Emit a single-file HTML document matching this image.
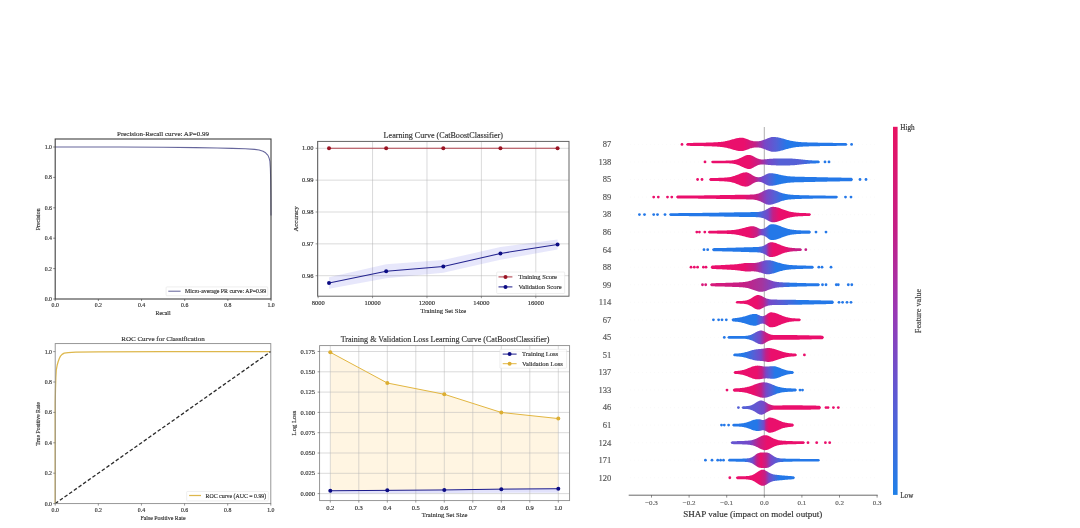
<!DOCTYPE html>
<html><head><meta charset="utf-8"><title>Model evaluation figures</title>
<style>
html,body{margin:0;padding:0;background:#fff;}
body{width:1080px;height:528px;overflow:hidden;}
svg{display:block;filter:blur(0.55px);font-family:'Liberation Serif',serif;}
</style></head><body>
<svg width="1080" height="528" viewBox="0 0 1080 528">
<rect width="1080" height="528" fill="#fff"/>
<g id="pr">
<path d="M55.2 147 L119.94 147.08 L163.1 147.3 L195.47 147.61 L217.05 147.91 L232.16 148.37 L245.1 148.82 L254.6 149.36 L259.13 150.04 L263.02 151.26 L265.61 152.78 L267.98 155.36 L269.06 157.94 L269.92 161.44 L270.35 168.28 L270.68 180.44 L270.89 195.64 L271 215.4" fill="none" stroke="#66669c" stroke-width="1.05" stroke-linejoin="round"/>
<rect x="55.2" y="139.0" width="215.8" height="160" fill="none" stroke="#444" stroke-width="1.12"/>
<line x1="55.2" y1="299.0" x2="55.2" y2="301.0" stroke="#3c3c3c" stroke-width="0.6"/>
<line x1="53.2" y1="299" x2="55.2" y2="299" stroke="#3c3c3c" stroke-width="0.6"/>
<text x="55.2" y="307.1" font-size="5.8" text-anchor="middle" fill="#333" stroke="#333" stroke-width="0.16">0.0</text>
<text x="51.9" y="300.9" font-size="5.8" text-anchor="end" fill="#333" stroke="#333" stroke-width="0.16">0.0</text>
<line x1="98.36" y1="299.0" x2="98.36" y2="301.0" stroke="#3c3c3c" stroke-width="0.6"/>
<line x1="53.2" y1="268.6" x2="55.2" y2="268.6" stroke="#3c3c3c" stroke-width="0.6"/>
<text x="98.36" y="307.1" font-size="5.8" text-anchor="middle" fill="#333" stroke="#333" stroke-width="0.16">0.2</text>
<text x="51.9" y="270.5" font-size="5.8" text-anchor="end" fill="#333" stroke="#333" stroke-width="0.16">0.2</text>
<line x1="141.52" y1="299.0" x2="141.52" y2="301.0" stroke="#3c3c3c" stroke-width="0.6"/>
<line x1="53.2" y1="238.2" x2="55.2" y2="238.2" stroke="#3c3c3c" stroke-width="0.6"/>
<text x="141.52" y="307.1" font-size="5.8" text-anchor="middle" fill="#333" stroke="#333" stroke-width="0.16">0.4</text>
<text x="51.9" y="240.1" font-size="5.8" text-anchor="end" fill="#333" stroke="#333" stroke-width="0.16">0.4</text>
<line x1="184.68" y1="299.0" x2="184.68" y2="301.0" stroke="#3c3c3c" stroke-width="0.6"/>
<line x1="53.2" y1="207.8" x2="55.2" y2="207.8" stroke="#3c3c3c" stroke-width="0.6"/>
<text x="184.68" y="307.1" font-size="5.8" text-anchor="middle" fill="#333" stroke="#333" stroke-width="0.16">0.6</text>
<text x="51.9" y="209.7" font-size="5.8" text-anchor="end" fill="#333" stroke="#333" stroke-width="0.16">0.6</text>
<line x1="227.84" y1="299.0" x2="227.84" y2="301.0" stroke="#3c3c3c" stroke-width="0.6"/>
<line x1="53.2" y1="177.4" x2="55.2" y2="177.4" stroke="#3c3c3c" stroke-width="0.6"/>
<text x="227.84" y="307.1" font-size="5.8" text-anchor="middle" fill="#333" stroke="#333" stroke-width="0.16">0.8</text>
<text x="51.9" y="179.3" font-size="5.8" text-anchor="end" fill="#333" stroke="#333" stroke-width="0.16">0.8</text>
<line x1="271" y1="299.0" x2="271" y2="301.0" stroke="#3c3c3c" stroke-width="0.6"/>
<line x1="53.2" y1="147" x2="55.2" y2="147" stroke="#3c3c3c" stroke-width="0.6"/>
<text x="271" y="307.1" font-size="5.8" text-anchor="middle" fill="#333" stroke="#333" stroke-width="0.16">1.0</text>
<text x="51.9" y="148.9" font-size="5.8" text-anchor="end" fill="#333" stroke="#333" stroke-width="0.16">1.0</text>
<text x="163" y="135.8" font-size="7.0" text-anchor="middle" fill="#333" stroke="#333" stroke-width="0.16">Precision-Recall curve: AP=0.99</text>
<text x="163" y="315.2" font-size="5.9" text-anchor="middle" fill="#333" stroke="#333" stroke-width="0.16">Recall</text>
<text x="40.3" y="219.3" font-size="5.9" text-anchor="middle" fill="#333" stroke="#333" stroke-width="0.16" transform="rotate(-90 40.3 219.3)">Precision</text>
<rect x="166.1" y="286.9" width="101.7" height="8.9" rx="0.8" fill="#fff" stroke="#dcdcdc" stroke-width="0.5"/>
<line x1="168.3" y1="291.2" x2="180.6" y2="291.2" stroke="#66669c" stroke-width="1.05"/>
<text x="185" y="293.1" font-size="5.85" text-anchor="start" fill="#333" stroke="#333" stroke-width="0.16">Micro-average PR curve: AP=0.99</text>
</g>
<g id="roc">
<path d="M55.2 503.6 L55.2 403.28 L55.52 388.08 L55.85 377.44 L56.28 369.99 L57.14 365.28 L58.2 361.48 L59.3 358.44 L60.48 356.16 L62.1 354.34 L64.19 353.12 L68.14 352.51 L75.68 352.13 L98.32 351.9 L163 351.68 L270.8 351.6" fill="none" stroke="#ddb74c" stroke-width="1.25" stroke-linejoin="round"/>
<line x1="55.2" y1="503.6" x2="270.8" y2="351.6" stroke="#2a2a2a" stroke-width="1.3" stroke-dasharray="3.6 2.1"/>
<rect x="55.2" y="343.6" width="215.6" height="160" fill="none" stroke="#8c8c8c" stroke-width="0.9"/>
<line x1="55.2" y1="503.6" x2="55.2" y2="505.6" stroke="#555" stroke-width="0.6"/>
<line x1="53.2" y1="503.6" x2="55.2" y2="503.6" stroke="#555" stroke-width="0.6"/>
<text x="55.2" y="511.7" font-size="5.8" text-anchor="middle" fill="#333" stroke="#333" stroke-width="0.16">0.0</text>
<text x="51.9" y="505.5" font-size="5.8" text-anchor="end" fill="#333" stroke="#333" stroke-width="0.16">0.0</text>
<line x1="98.32" y1="503.6" x2="98.32" y2="505.6" stroke="#555" stroke-width="0.6"/>
<line x1="53.2" y1="473.2" x2="55.2" y2="473.2" stroke="#555" stroke-width="0.6"/>
<text x="98.32" y="511.7" font-size="5.8" text-anchor="middle" fill="#333" stroke="#333" stroke-width="0.16">0.2</text>
<text x="51.9" y="475.1" font-size="5.8" text-anchor="end" fill="#333" stroke="#333" stroke-width="0.16">0.2</text>
<line x1="141.44" y1="503.6" x2="141.44" y2="505.6" stroke="#555" stroke-width="0.6"/>
<line x1="53.2" y1="442.8" x2="55.2" y2="442.8" stroke="#555" stroke-width="0.6"/>
<text x="141.44" y="511.7" font-size="5.8" text-anchor="middle" fill="#333" stroke="#333" stroke-width="0.16">0.4</text>
<text x="51.9" y="444.7" font-size="5.8" text-anchor="end" fill="#333" stroke="#333" stroke-width="0.16">0.4</text>
<line x1="184.56" y1="503.6" x2="184.56" y2="505.6" stroke="#555" stroke-width="0.6"/>
<line x1="53.2" y1="412.4" x2="55.2" y2="412.4" stroke="#555" stroke-width="0.6"/>
<text x="184.56" y="511.7" font-size="5.8" text-anchor="middle" fill="#333" stroke="#333" stroke-width="0.16">0.6</text>
<text x="51.9" y="414.3" font-size="5.8" text-anchor="end" fill="#333" stroke="#333" stroke-width="0.16">0.6</text>
<line x1="227.68" y1="503.6" x2="227.68" y2="505.6" stroke="#555" stroke-width="0.6"/>
<line x1="53.2" y1="382" x2="55.2" y2="382" stroke="#555" stroke-width="0.6"/>
<text x="227.68" y="511.7" font-size="5.8" text-anchor="middle" fill="#333" stroke="#333" stroke-width="0.16">0.8</text>
<text x="51.9" y="383.9" font-size="5.8" text-anchor="end" fill="#333" stroke="#333" stroke-width="0.16">0.8</text>
<line x1="270.8" y1="503.6" x2="270.8" y2="505.6" stroke="#555" stroke-width="0.6"/>
<line x1="53.2" y1="351.6" x2="55.2" y2="351.6" stroke="#555" stroke-width="0.6"/>
<text x="270.8" y="511.7" font-size="5.8" text-anchor="middle" fill="#333" stroke="#333" stroke-width="0.16">1.0</text>
<text x="51.9" y="353.5" font-size="5.8" text-anchor="end" fill="#333" stroke="#333" stroke-width="0.16">1.0</text>
<text x="163" y="340.6" font-size="7.0" text-anchor="middle" fill="#333" stroke="#333" stroke-width="0.16">ROC Curve for Classification</text>
<text x="163" y="519.8" font-size="5.9" text-anchor="middle" fill="#333" stroke="#333" stroke-width="0.16">False Positive Rate</text>
<text x="40.3" y="424" font-size="5.9" text-anchor="middle" fill="#333" stroke="#333" stroke-width="0.16" transform="rotate(-90 40.3 424)">True Positive Rate</text>
<rect x="186.7" y="491.4" width="81.6" height="9.5" rx="0.8" fill="#fff" fill-opacity="0.8" stroke="#dcdcdc" stroke-width="0.5"/>
<line x1="189.1" y1="495.5" x2="201" y2="495.5" stroke="#ddb74c" stroke-width="1.25"/>
<text x="205.6" y="497.5" font-size="5.85" text-anchor="start" fill="#333" stroke="#333" stroke-width="0.16">ROC curve (AUC = 0.99)</text>
</g>
<g id="lc">
<line x1="318.14" y1="141.4" x2="318.14" y2="296.2" stroke="#b4b4b6" stroke-width="0.5"/>
<line x1="372.56" y1="141.4" x2="372.56" y2="296.2" stroke="#b4b4b6" stroke-width="0.5"/>
<line x1="426.98" y1="141.4" x2="426.98" y2="296.2" stroke="#b4b4b6" stroke-width="0.5"/>
<line x1="481.39" y1="141.4" x2="481.39" y2="296.2" stroke="#b4b4b6" stroke-width="0.5"/>
<line x1="535.81" y1="141.4" x2="535.81" y2="296.2" stroke="#b4b4b6" stroke-width="0.5"/>
<line x1="317.6" y1="275.7" x2="569.0" y2="275.7" stroke="#b4b4b6" stroke-width="0.5"/>
<line x1="317.6" y1="243.85" x2="569.0" y2="243.85" stroke="#b4b4b6" stroke-width="0.5"/>
<line x1="317.6" y1="212" x2="569.0" y2="212" stroke="#b4b4b6" stroke-width="0.5"/>
<line x1="317.6" y1="180.15" x2="569.0" y2="180.15" stroke="#b4b4b6" stroke-width="0.5"/>
<line x1="317.6" y1="148.3" x2="569.0" y2="148.3" stroke="#b4b4b6" stroke-width="0.5"/>
<path d="M329.03 277.29 L386.16 264.23 L443.3 260.09 L500.44 247.03 L557.57 239.39 L557.57 249.58 L500.44 259.77 L443.3 272.83 L386.16 278.25 L329.03 288.76" fill="#2222dd" stroke="none" stroke-width="0" stroke-linejoin="round" fill-opacity="0.11"/>
<path d="M329.03 148.3 L386.16 148.3 L443.3 148.3 L500.44 148.3 L557.57 148.3" fill="none" stroke="#b2434f" stroke-width="1.1" stroke-linejoin="round"/>
<circle cx="329.03" cy="148.3" r="2.0" fill="#9a1424"/>
<circle cx="386.16" cy="148.3" r="2.0" fill="#9a1424"/>
<circle cx="443.3" cy="148.3" r="2.0" fill="#9a1424"/>
<circle cx="500.44" cy="148.3" r="2.0" fill="#9a1424"/>
<circle cx="557.57" cy="148.3" r="2.0" fill="#9a1424"/>
<path d="M329.03 283.03 L386.16 271.24 L443.3 266.46 L500.44 253.4 L557.57 244.49" fill="none" stroke="#23238f" stroke-width="1.05" stroke-linejoin="round"/>
<circle cx="329.03" cy="283.03" r="2.0" fill="#0c0c84"/>
<circle cx="386.16" cy="271.24" r="2.0" fill="#0c0c84"/>
<circle cx="443.3" cy="266.46" r="2.0" fill="#0c0c84"/>
<circle cx="500.44" cy="253.4" r="2.0" fill="#0c0c84"/>
<circle cx="557.57" cy="244.49" r="2.0" fill="#0c0c84"/>
<rect x="317.6" y="141.4" width="251.4" height="154.8" fill="none" stroke="#5e5e5e" stroke-width="0.95"/>
<line x1="318.14" y1="296.2" x2="318.14" y2="298.2" stroke="#555" stroke-width="0.6"/>
<text x="318.14" y="304.9" font-size="6.5" text-anchor="middle" fill="#333" stroke="#333" stroke-width="0.16">8000</text>
<line x1="372.56" y1="296.2" x2="372.56" y2="298.2" stroke="#555" stroke-width="0.6"/>
<text x="372.56" y="304.9" font-size="6.5" text-anchor="middle" fill="#333" stroke="#333" stroke-width="0.16">10000</text>
<line x1="426.98" y1="296.2" x2="426.98" y2="298.2" stroke="#555" stroke-width="0.6"/>
<text x="426.98" y="304.9" font-size="6.5" text-anchor="middle" fill="#333" stroke="#333" stroke-width="0.16">12000</text>
<line x1="481.39" y1="296.2" x2="481.39" y2="298.2" stroke="#555" stroke-width="0.6"/>
<text x="481.39" y="304.9" font-size="6.5" text-anchor="middle" fill="#333" stroke="#333" stroke-width="0.16">14000</text>
<line x1="535.81" y1="296.2" x2="535.81" y2="298.2" stroke="#555" stroke-width="0.6"/>
<text x="535.81" y="304.9" font-size="6.5" text-anchor="middle" fill="#333" stroke="#333" stroke-width="0.16">16000</text>
<line x1="315.6" y1="275.7" x2="317.6" y2="275.7" stroke="#555" stroke-width="0.6"/>
<text x="313.4" y="277.8" font-size="6.5" text-anchor="end" fill="#333" stroke="#333" stroke-width="0.16">0.96</text>
<line x1="315.6" y1="243.85" x2="317.6" y2="243.85" stroke="#555" stroke-width="0.6"/>
<text x="313.4" y="245.95" font-size="6.5" text-anchor="end" fill="#333" stroke="#333" stroke-width="0.16">0.97</text>
<line x1="315.6" y1="212" x2="317.6" y2="212" stroke="#555" stroke-width="0.6"/>
<text x="313.4" y="214.1" font-size="6.5" text-anchor="end" fill="#333" stroke="#333" stroke-width="0.16">0.98</text>
<line x1="315.6" y1="180.15" x2="317.6" y2="180.15" stroke="#555" stroke-width="0.6"/>
<text x="313.4" y="182.25" font-size="6.5" text-anchor="end" fill="#333" stroke="#333" stroke-width="0.16">0.99</text>
<line x1="315.6" y1="148.3" x2="317.6" y2="148.3" stroke="#555" stroke-width="0.6"/>
<text x="313.4" y="150.4" font-size="6.5" text-anchor="end" fill="#333" stroke="#333" stroke-width="0.16">1.00</text>
<text x="443.3" y="137.8" font-size="8.08" text-anchor="middle" fill="#333" stroke="#333" stroke-width="0.16">Learning Curve (CatBoostClassifier)</text>
<text x="443.3" y="313.2" font-size="6.6" text-anchor="middle" fill="#333" stroke="#333" stroke-width="0.16">Training Set Size</text>
<text x="298.3" y="218.8" font-size="6.6" text-anchor="middle" fill="#333" stroke="#333" stroke-width="0.16" transform="rotate(-90 298.3 218.8)">Accuracy</text>
<rect x="496.7" y="272" width="68" height="21.5" rx="0.8" fill="#fff" fill-opacity="0.8" stroke="#dcdcdc" stroke-width="0.5"/>
<line x1="498.5" y1="276.9" x2="512.4" y2="276.9" stroke="#b2434f" stroke-width="1.1"/><circle cx="505.5" cy="276.9" r="2.0" fill="#9a1424"/>
<line x1="498.5" y1="286.9" x2="512.4" y2="286.9" stroke="#23238f" stroke-width="1.05"/><circle cx="505.5" cy="286.9" r="2.0" fill="#0c0c84"/>
<text x="518.4" y="279.1" font-size="6.5" text-anchor="start" fill="#333" stroke="#333" stroke-width="0.16">Training Score</text>
<text x="518.4" y="289.1" font-size="6.5" text-anchor="start" fill="#333" stroke="#333" stroke-width="0.16">Validation Score</text>
</g>
<g id="loss">
<path d="M330.3 352.31 L387.3 383.01 L444.3 394.29 L501.3 412.48 L558.3 418.57 L558.3 488.73 L501.3 489.13 L444.3 489.95 L387.3 490.35 L330.3 490.76" fill="#ffa500" stroke="none" stroke-width="0" stroke-linejoin="round" fill-opacity="0.115"/>
<path d="M330.3 490.76 L387.3 490.35 L444.3 489.95 L501.3 489.13 L558.3 488.73 L558.3 492.63 L330.3 493.44" fill="#2222dd" stroke="none" stroke-width="0" stroke-linejoin="round" fill-opacity="0.13"/>
<line x1="330.3" y1="345.6" x2="330.3" y2="500.6" stroke="#b4b4b6" stroke-width="0.5"/>
<line x1="358.8" y1="345.6" x2="358.8" y2="500.6" stroke="#b4b4b6" stroke-width="0.5"/>
<line x1="387.3" y1="345.6" x2="387.3" y2="500.6" stroke="#b4b4b6" stroke-width="0.5"/>
<line x1="415.8" y1="345.6" x2="415.8" y2="500.6" stroke="#b4b4b6" stroke-width="0.5"/>
<line x1="444.3" y1="345.6" x2="444.3" y2="500.6" stroke="#b4b4b6" stroke-width="0.5"/>
<line x1="472.8" y1="345.6" x2="472.8" y2="500.6" stroke="#b4b4b6" stroke-width="0.5"/>
<line x1="501.3" y1="345.6" x2="501.3" y2="500.6" stroke="#b4b4b6" stroke-width="0.5"/>
<line x1="529.8" y1="345.6" x2="529.8" y2="500.6" stroke="#b4b4b6" stroke-width="0.5"/>
<line x1="558.3" y1="345.6" x2="558.3" y2="500.6" stroke="#b4b4b6" stroke-width="0.5"/>
<line x1="319.6" y1="493.6" x2="569.6" y2="493.6" stroke="#b4b4b6" stroke-width="0.5"/>
<line x1="319.6" y1="473.3" x2="569.6" y2="473.3" stroke="#b4b4b6" stroke-width="0.5"/>
<line x1="319.6" y1="453" x2="569.6" y2="453" stroke="#b4b4b6" stroke-width="0.5"/>
<line x1="319.6" y1="432.7" x2="569.6" y2="432.7" stroke="#b4b4b6" stroke-width="0.5"/>
<line x1="319.6" y1="412.4" x2="569.6" y2="412.4" stroke="#b4b4b6" stroke-width="0.5"/>
<line x1="319.6" y1="392.1" x2="569.6" y2="392.1" stroke="#b4b4b6" stroke-width="0.5"/>
<line x1="319.6" y1="371.8" x2="569.6" y2="371.8" stroke="#b4b4b6" stroke-width="0.5"/>
<line x1="319.6" y1="351.5" x2="569.6" y2="351.5" stroke="#b4b4b6" stroke-width="0.5"/>
<path d="M330.3 352.31 L387.3 383.01 L444.3 394.29 L501.3 412.48 L558.3 418.57" fill="none" stroke="#e2b640" stroke-width="1.0" stroke-linejoin="round"/>
<circle cx="330.3" cy="352.31" r="2.0" fill="#dcae32"/>
<circle cx="387.3" cy="383.01" r="2.0" fill="#dcae32"/>
<circle cx="444.3" cy="394.29" r="2.0" fill="#dcae32"/>
<circle cx="501.3" cy="412.48" r="2.0" fill="#dcae32"/>
<circle cx="558.3" cy="418.57" r="2.0" fill="#dcae32"/>
<path d="M330.3 490.76 L387.3 490.35 L444.3 489.95 L501.3 489.13 L558.3 488.73" fill="none" stroke="#1a1a8c" stroke-width="1.0" stroke-linejoin="round"/>
<circle cx="330.3" cy="490.76" r="2.0" fill="#0c0c84"/>
<circle cx="387.3" cy="490.35" r="2.0" fill="#0c0c84"/>
<circle cx="444.3" cy="489.95" r="2.0" fill="#0c0c84"/>
<circle cx="501.3" cy="489.13" r="2.0" fill="#0c0c84"/>
<circle cx="558.3" cy="488.73" r="2.0" fill="#0c0c84"/>
<rect x="319.6" y="345.6" width="250" height="155" fill="none" stroke="#8c8c8c" stroke-width="0.9"/>
<line x1="330.3" y1="500.6" x2="330.3" y2="502.6" stroke="#555" stroke-width="0.6"/>
<text x="330.3" y="509.6" font-size="6.5" text-anchor="middle" fill="#333" stroke="#333" stroke-width="0.16">0.2</text>
<line x1="358.8" y1="500.6" x2="358.8" y2="502.6" stroke="#555" stroke-width="0.6"/>
<text x="358.8" y="509.6" font-size="6.5" text-anchor="middle" fill="#333" stroke="#333" stroke-width="0.16">0.3</text>
<line x1="387.3" y1="500.6" x2="387.3" y2="502.6" stroke="#555" stroke-width="0.6"/>
<text x="387.3" y="509.6" font-size="6.5" text-anchor="middle" fill="#333" stroke="#333" stroke-width="0.16">0.4</text>
<line x1="415.8" y1="500.6" x2="415.8" y2="502.6" stroke="#555" stroke-width="0.6"/>
<text x="415.8" y="509.6" font-size="6.5" text-anchor="middle" fill="#333" stroke="#333" stroke-width="0.16">0.5</text>
<line x1="444.3" y1="500.6" x2="444.3" y2="502.6" stroke="#555" stroke-width="0.6"/>
<text x="444.3" y="509.6" font-size="6.5" text-anchor="middle" fill="#333" stroke="#333" stroke-width="0.16">0.6</text>
<line x1="472.8" y1="500.6" x2="472.8" y2="502.6" stroke="#555" stroke-width="0.6"/>
<text x="472.8" y="509.6" font-size="6.5" text-anchor="middle" fill="#333" stroke="#333" stroke-width="0.16">0.7</text>
<line x1="501.3" y1="500.6" x2="501.3" y2="502.6" stroke="#555" stroke-width="0.6"/>
<text x="501.3" y="509.6" font-size="6.5" text-anchor="middle" fill="#333" stroke="#333" stroke-width="0.16">0.8</text>
<line x1="529.8" y1="500.6" x2="529.8" y2="502.6" stroke="#555" stroke-width="0.6"/>
<text x="529.8" y="509.6" font-size="6.5" text-anchor="middle" fill="#333" stroke="#333" stroke-width="0.16">0.9</text>
<line x1="558.3" y1="500.6" x2="558.3" y2="502.6" stroke="#555" stroke-width="0.6"/>
<text x="558.3" y="509.6" font-size="6.5" text-anchor="middle" fill="#333" stroke="#333" stroke-width="0.16">1.0</text>
<line x1="317.6" y1="493.6" x2="319.6" y2="493.6" stroke="#555" stroke-width="0.6"/>
<text x="315" y="495.7" font-size="6.5" text-anchor="end" fill="#333" stroke="#333" stroke-width="0.16">0.000</text>
<line x1="317.6" y1="473.3" x2="319.6" y2="473.3" stroke="#555" stroke-width="0.6"/>
<text x="315" y="475.4" font-size="6.5" text-anchor="end" fill="#333" stroke="#333" stroke-width="0.16">0.025</text>
<line x1="317.6" y1="453" x2="319.6" y2="453" stroke="#555" stroke-width="0.6"/>
<text x="315" y="455.1" font-size="6.5" text-anchor="end" fill="#333" stroke="#333" stroke-width="0.16">0.050</text>
<line x1="317.6" y1="432.7" x2="319.6" y2="432.7" stroke="#555" stroke-width="0.6"/>
<text x="315" y="434.8" font-size="6.5" text-anchor="end" fill="#333" stroke="#333" stroke-width="0.16">0.075</text>
<line x1="317.6" y1="412.4" x2="319.6" y2="412.4" stroke="#555" stroke-width="0.6"/>
<text x="315" y="414.5" font-size="6.5" text-anchor="end" fill="#333" stroke="#333" stroke-width="0.16">0.100</text>
<line x1="317.6" y1="392.1" x2="319.6" y2="392.1" stroke="#555" stroke-width="0.6"/>
<text x="315" y="394.2" font-size="6.5" text-anchor="end" fill="#333" stroke="#333" stroke-width="0.16">0.125</text>
<line x1="317.6" y1="371.8" x2="319.6" y2="371.8" stroke="#555" stroke-width="0.6"/>
<text x="315" y="373.9" font-size="6.5" text-anchor="end" fill="#333" stroke="#333" stroke-width="0.16">0.150</text>
<line x1="317.6" y1="351.5" x2="319.6" y2="351.5" stroke="#555" stroke-width="0.6"/>
<text x="315" y="353.6" font-size="6.5" text-anchor="end" fill="#333" stroke="#333" stroke-width="0.16">0.175</text>
<text x="445.1" y="341.7" font-size="8.05" text-anchor="middle" fill="#333" stroke="#333" stroke-width="0.16">Training &amp; Validation Loss Learning Curve (CatBoostClassifier)</text>
<text x="444.6" y="517.4" font-size="6.6" text-anchor="middle" fill="#333" stroke="#333" stroke-width="0.16">Training Set Size</text>
<text x="296.3" y="423" font-size="6.6" text-anchor="middle" fill="#333" stroke="#333" stroke-width="0.16" transform="rotate(-90 296.3 423)">Log Loss</text>
<rect x="499.9" y="349.3" width="66.7" height="18.9" rx="0.8" fill="#fff" fill-opacity="0.8" stroke="#dcdcdc" stroke-width="0.5"/>
<line x1="502.7" y1="354.1" x2="516.6" y2="354.1" stroke="#1a1a8c" stroke-width="1.0"/><circle cx="509.6" cy="354.1" r="2.0" fill="#0c0c84"/>
<line x1="502.7" y1="363.7" x2="516.6" y2="363.7" stroke="#e2b640" stroke-width="1.0"/><circle cx="509.6" cy="363.7" r="2.0" fill="#dcae32"/>
<text x="522.1" y="356.3" font-size="6.5" text-anchor="start" fill="#333" stroke="#333" stroke-width="0.16">Training Loss</text>
<text x="522.1" y="365.9" font-size="6.5" text-anchor="start" fill="#333" stroke="#333" stroke-width="0.16">Validation Loss</text>
</g>
<g id="shap">
<defs>
<linearGradient id="g0" gradientUnits="userSpaceOnUse" x1="680" y1="0" x2="853.6" y2="0">
<stop offset="0" stop-color="#ea0f6c"/>
<stop offset="0.3687" stop-color="#ea0f6c"/>
<stop offset="0.4320" stop-color="#c41f86"/>
<stop offset="0.4896" stop-color="#7648c8"/>
<stop offset="0.5530" stop-color="#5560d6"/>
<stop offset="0.6164" stop-color="#2478e8"/>
<stop offset="1" stop-color="#2478e8"/>
</linearGradient>
<linearGradient id="g1" gradientUnits="userSpaceOnUse" x1="703" y1="0" x2="831" y2="0">
<stop offset="0" stop-color="#ea0f6c"/>
<stop offset="0.3594" stop-color="#ea0f6c"/>
<stop offset="0.4375" stop-color="#c41f86"/>
<stop offset="0.5078" stop-color="#7648c8"/>
<stop offset="0.6016" stop-color="#5560d6"/>
<stop offset="0.7578" stop-color="#5560d6"/>
<stop offset="0.8750" stop-color="#2478e8"/>
<stop offset="1" stop-color="#2478e8"/>
</linearGradient>
<linearGradient id="g2" gradientUnits="userSpaceOnUse" x1="695.6" y1="0" x2="868" y2="0">
<stop offset="0" stop-color="#ea0f6c"/>
<stop offset="0.2807" stop-color="#ea0f6c"/>
<stop offset="0.3445" stop-color="#c41f86"/>
<stop offset="0.3852" stop-color="#7648c8"/>
<stop offset="0.4258" stop-color="#5560d6"/>
<stop offset="0.4722" stop-color="#2478e8"/>
<stop offset="1" stop-color="#2478e8"/>
</linearGradient>
<linearGradient id="g3" gradientUnits="userSpaceOnUse" x1="651.7" y1="0" x2="853" y2="0">
<stop offset="0" stop-color="#ea0f6c"/>
<stop offset="0.4486" stop-color="#ea0f6c"/>
<stop offset="0.5231" stop-color="#c41f86"/>
<stop offset="0.5728" stop-color="#7648c8"/>
<stop offset="0.6125" stop-color="#5560d6"/>
<stop offset="0.6572" stop-color="#2478e8"/>
<stop offset="1" stop-color="#2478e8"/>
</linearGradient>
<linearGradient id="g4" gradientUnits="userSpaceOnUse" x1="637.4" y1="0" x2="813" y2="0">
<stop offset="0" stop-color="#2478e8"/>
<stop offset="0.6697" stop-color="#2478e8"/>
<stop offset="0.7096" stop-color="#5560d6"/>
<stop offset="0.7437" stop-color="#7648c8"/>
<stop offset="0.7722" stop-color="#c41f86"/>
<stop offset="0.8064" stop-color="#ea0f6c"/>
<stop offset="1" stop-color="#ea0f6c"/>
</linearGradient>
<linearGradient id="g5" gradientUnits="userSpaceOnUse" x1="694.8" y1="0" x2="828" y2="0">
<stop offset="0" stop-color="#ea0f6c"/>
<stop offset="0.4069" stop-color="#ea0f6c"/>
<stop offset="0.4670" stop-color="#c41f86"/>
<stop offset="0.5045" stop-color="#7648c8"/>
<stop offset="0.5345" stop-color="#5560d6"/>
<stop offset="0.5646" stop-color="#2478e8"/>
<stop offset="1" stop-color="#2478e8"/>
</linearGradient>
<linearGradient id="g6" gradientUnits="userSpaceOnUse" x1="702" y1="0" x2="807.8" y2="0">
<stop offset="0" stop-color="#2478e8"/>
<stop offset="0.5198" stop-color="#2478e8"/>
<stop offset="0.5671" stop-color="#5560d6"/>
<stop offset="0.6049" stop-color="#7648c8"/>
<stop offset="0.6333" stop-color="#c41f86"/>
<stop offset="0.6711" stop-color="#ea0f6c"/>
<stop offset="0.7750" stop-color="#ea0f6c"/>
<stop offset="0.8885" stop-color="#c41f86"/>
<stop offset="1" stop-color="#c41f86"/>
</linearGradient>
<linearGradient id="g7" gradientUnits="userSpaceOnUse" x1="689" y1="0" x2="833" y2="0">
<stop offset="0" stop-color="#ea0f6c"/>
<stop offset="0.3819" stop-color="#ea0f6c"/>
<stop offset="0.4583" stop-color="#c41f86"/>
<stop offset="0.5139" stop-color="#7648c8"/>
<stop offset="0.5556" stop-color="#5560d6"/>
<stop offset="0.6042" stop-color="#2478e8"/>
<stop offset="1" stop-color="#2478e8"/>
</linearGradient>
<linearGradient id="g8" gradientUnits="userSpaceOnUse" x1="700.5" y1="0" x2="853.8" y2="0">
<stop offset="0" stop-color="#d8197a"/>
<stop offset="0.0750" stop-color="#d8197a"/>
<stop offset="0.2903" stop-color="#c41f86"/>
<stop offset="0.4012" stop-color="#a5359e"/>
<stop offset="0.4795" stop-color="#7648c8"/>
<stop offset="0.5316" stop-color="#5560d6"/>
<stop offset="0.5903" stop-color="#2478e8"/>
<stop offset="1" stop-color="#2478e8"/>
</linearGradient>
<linearGradient id="g9" gradientUnits="userSpaceOnUse" x1="733.5" y1="0" x2="853" y2="0">
<stop offset="0" stop-color="#ea0f6c"/>
<stop offset="0.1967" stop-color="#ea0f6c"/>
<stop offset="0.2469" stop-color="#c41f86"/>
<stop offset="0.2971" stop-color="#7648c8"/>
<stop offset="0.4142" stop-color="#5560d6"/>
<stop offset="0.5565" stop-color="#2478e8"/>
<stop offset="1" stop-color="#2478e8"/>
</linearGradient>
<linearGradient id="g10" gradientUnits="userSpaceOnUse" x1="711.4" y1="0" x2="803" y2="0">
<stop offset="0" stop-color="#2478e8"/>
<stop offset="0.4869" stop-color="#2478e8"/>
<stop offset="0.5306" stop-color="#5560d6"/>
<stop offset="0.5633" stop-color="#7648c8"/>
<stop offset="0.5961" stop-color="#c41f86"/>
<stop offset="0.6288" stop-color="#ea0f6c"/>
<stop offset="1" stop-color="#ea0f6c"/>
</linearGradient>
<linearGradient id="g11" gradientUnits="userSpaceOnUse" x1="722.3" y1="0" x2="826" y2="0">
<stop offset="0" stop-color="#2478e8"/>
<stop offset="0.2382" stop-color="#2478e8"/>
<stop offset="0.3057" stop-color="#5560d6"/>
<stop offset="0.3635" stop-color="#7648c8"/>
<stop offset="0.4118" stop-color="#c41f86"/>
<stop offset="0.4696" stop-color="#ea0f6c"/>
<stop offset="1" stop-color="#ea0f6c"/>
</linearGradient>
<linearGradient id="g12" gradientUnits="userSpaceOnUse" x1="731" y1="0" x2="806.4" y2="0">
<stop offset="0" stop-color="#2478e8"/>
<stop offset="0.1724" stop-color="#2478e8"/>
<stop offset="0.3050" stop-color="#5560d6"/>
<stop offset="0.3979" stop-color="#7648c8"/>
<stop offset="0.4642" stop-color="#c41f86"/>
<stop offset="0.5305" stop-color="#ea0f6c"/>
<stop offset="1" stop-color="#ea0f6c"/>
</linearGradient>
<linearGradient id="g13" gradientUnits="userSpaceOnUse" x1="731.5" y1="0" x2="796" y2="0">
<stop offset="0" stop-color="#ea0f6c"/>
<stop offset="0.3953" stop-color="#ea0f6c"/>
<stop offset="0.4729" stop-color="#c41f86"/>
<stop offset="0.5349" stop-color="#7648c8"/>
<stop offset="0.5969" stop-color="#5560d6"/>
<stop offset="0.6744" stop-color="#2478e8"/>
<stop offset="1" stop-color="#2478e8"/>
</linearGradient>
<linearGradient id="g14" gradientUnits="userSpaceOnUse" x1="725" y1="0" x2="804.5" y2="0">
<stop offset="0" stop-color="#ea0f6c"/>
<stop offset="0.3648" stop-color="#ea0f6c"/>
<stop offset="0.4528" stop-color="#c41f86"/>
<stop offset="0.5157" stop-color="#7648c8"/>
<stop offset="0.5786" stop-color="#5560d6"/>
<stop offset="0.6541" stop-color="#2478e8"/>
<stop offset="1" stop-color="#2478e8"/>
</linearGradient>
<linearGradient id="g15" gradientUnits="userSpaceOnUse" x1="736.4" y1="0" x2="840.3" y2="0">
<stop offset="0" stop-color="#5560d6"/>
<stop offset="0.0828" stop-color="#5560d6"/>
<stop offset="0.2079" stop-color="#6655d0"/>
<stop offset="0.2656" stop-color="#7648c8"/>
<stop offset="0.3138" stop-color="#c41f86"/>
<stop offset="0.3715" stop-color="#ea0f6c"/>
<stop offset="1" stop-color="#ea0f6c"/>
</linearGradient>
<linearGradient id="g16" gradientUnits="userSpaceOnUse" x1="719.5" y1="0" x2="796" y2="0">
<stop offset="0" stop-color="#2478e8"/>
<stop offset="0.4902" stop-color="#2478e8"/>
<stop offset="0.5425" stop-color="#5560d6"/>
<stop offset="0.5817" stop-color="#7648c8"/>
<stop offset="0.6078" stop-color="#c41f86"/>
<stop offset="0.6471" stop-color="#ea0f6c"/>
<stop offset="1" stop-color="#ea0f6c"/>
</linearGradient>
<linearGradient id="g17" gradientUnits="userSpaceOnUse" x1="728.6" y1="0" x2="831.7" y2="0">
<stop offset="0" stop-color="#6655d0"/>
<stop offset="0.0621" stop-color="#6655d0"/>
<stop offset="0.2076" stop-color="#7648c8"/>
<stop offset="0.2949" stop-color="#c41f86"/>
<stop offset="0.3725" stop-color="#ea0f6c"/>
<stop offset="1" stop-color="#ea0f6c"/>
</linearGradient>
<linearGradient id="g18" gradientUnits="userSpaceOnUse" x1="703.4" y1="0" x2="822" y2="0">
<stop offset="0" stop-color="#2478e8"/>
<stop offset="0.3423" stop-color="#2478e8"/>
<stop offset="0.3845" stop-color="#5560d6"/>
<stop offset="0.4182" stop-color="#7648c8"/>
<stop offset="0.4519" stop-color="#c41f86"/>
<stop offset="0.4857" stop-color="#ea0f6c"/>
<stop offset="0.5278" stop-color="#c41f86"/>
<stop offset="0.5700" stop-color="#7648c8"/>
<stop offset="0.6206" stop-color="#5560d6"/>
<stop offset="0.6880" stop-color="#2478e8"/>
<stop offset="1" stop-color="#2478e8"/>
</linearGradient>
<linearGradient id="g19" gradientUnits="userSpaceOnUse" x1="727.8" y1="0" x2="797" y2="0">
<stop offset="0" stop-color="#ea0f6c"/>
<stop offset="0.4509" stop-color="#ea0f6c"/>
<stop offset="0.5376" stop-color="#c41f86"/>
<stop offset="0.5954" stop-color="#7648c8"/>
<stop offset="0.6532" stop-color="#5560d6"/>
<stop offset="0.7399" stop-color="#2478e8"/>
<stop offset="1" stop-color="#2478e8"/>
</linearGradient>
</defs>
<line x1="630" y1="144.4" x2="877" y2="144.4" stroke="#efefef" stroke-width="0.4" stroke-dasharray="0.8 3.2"/>
<line x1="630" y1="161.94" x2="877" y2="161.94" stroke="#efefef" stroke-width="0.4" stroke-dasharray="0.8 3.2"/>
<line x1="630" y1="179.49" x2="877" y2="179.49" stroke="#efefef" stroke-width="0.4" stroke-dasharray="0.8 3.2"/>
<line x1="630" y1="197.04" x2="877" y2="197.04" stroke="#efefef" stroke-width="0.4" stroke-dasharray="0.8 3.2"/>
<line x1="630" y1="214.58" x2="877" y2="214.58" stroke="#efefef" stroke-width="0.4" stroke-dasharray="0.8 3.2"/>
<line x1="630" y1="232.12" x2="877" y2="232.12" stroke="#efefef" stroke-width="0.4" stroke-dasharray="0.8 3.2"/>
<line x1="630" y1="249.67" x2="877" y2="249.67" stroke="#efefef" stroke-width="0.4" stroke-dasharray="0.8 3.2"/>
<line x1="630" y1="267.22" x2="877" y2="267.22" stroke="#efefef" stroke-width="0.4" stroke-dasharray="0.8 3.2"/>
<line x1="630" y1="284.76" x2="877" y2="284.76" stroke="#efefef" stroke-width="0.4" stroke-dasharray="0.8 3.2"/>
<line x1="630" y1="302.31" x2="877" y2="302.31" stroke="#efefef" stroke-width="0.4" stroke-dasharray="0.8 3.2"/>
<line x1="630" y1="319.85" x2="877" y2="319.85" stroke="#efefef" stroke-width="0.4" stroke-dasharray="0.8 3.2"/>
<line x1="630" y1="337.39" x2="877" y2="337.39" stroke="#efefef" stroke-width="0.4" stroke-dasharray="0.8 3.2"/>
<line x1="630" y1="354.94" x2="877" y2="354.94" stroke="#efefef" stroke-width="0.4" stroke-dasharray="0.8 3.2"/>
<line x1="630" y1="372.49" x2="877" y2="372.49" stroke="#efefef" stroke-width="0.4" stroke-dasharray="0.8 3.2"/>
<line x1="630" y1="390.03" x2="877" y2="390.03" stroke="#efefef" stroke-width="0.4" stroke-dasharray="0.8 3.2"/>
<line x1="630" y1="407.58" x2="877" y2="407.58" stroke="#efefef" stroke-width="0.4" stroke-dasharray="0.8 3.2"/>
<line x1="630" y1="425.12" x2="877" y2="425.12" stroke="#efefef" stroke-width="0.4" stroke-dasharray="0.8 3.2"/>
<line x1="630" y1="442.67" x2="877" y2="442.67" stroke="#efefef" stroke-width="0.4" stroke-dasharray="0.8 3.2"/>
<line x1="630" y1="460.21" x2="877" y2="460.21" stroke="#efefef" stroke-width="0.4" stroke-dasharray="0.8 3.2"/>
<line x1="630" y1="477.75" x2="877" y2="477.75" stroke="#efefef" stroke-width="0.4" stroke-dasharray="0.8 3.2"/>
<line x1="764.3" y1="127" x2="764.3" y2="495.2" stroke="#9a9a9a" stroke-width="0.8"/>
<path d="M686 144.4 L686.75 143.38 L687.5 142.96 L688.25 142.95 L689 142.94 L689.76 142.93 L690.51 142.92 L691.26 142.91 L692.01 142.9 L692.76 142.89 L693.51 142.87 L694.26 142.86 L695.01 142.85 L695.77 142.84 L696.52 142.82 L697.27 142.81 L698.02 142.79 L698.77 142.78 L699.52 142.76 L700.27 142.75 L701.02 142.73 L701.77 142.72 L702.53 142.7 L703.28 142.68 L704.03 142.66 L704.78 142.64 L705.53 142.63 L706.28 142.61 L707.03 142.59 L707.78 142.56 L708.53 142.54 L709.29 142.52 L710.04 142.5 L710.79 142.47 L711.54 142.45 L712.29 142.42 L713.04 142.39 L713.79 142.36 L714.54 142.33 L715.3 142.3 L716.05 142.26 L716.8 142.21 L717.55 142.17 L718.3 142.11 L719.05 142.05 L719.8 141.99 L720.55 141.92 L721.3 141.83 L722.06 141.74 L722.81 141.64 L723.56 141.53 L724.31 141.4 L725.06 141.27 L725.81 141.12 L726.56 140.96 L727.31 140.79 L728.07 140.61 L728.82 140.41 L729.57 140.21 L730.32 140 L731.07 139.78 L731.82 139.57 L732.57 139.35 L733.32 139.13 L734.07 138.92 L734.83 138.71 L735.58 138.52 L736.33 138.34 L737.08 138.17 L737.83 138.03 L738.58 137.91 L739.33 137.81 L740.08 137.74 L740.83 137.69 L741.59 137.68 L742.34 137.74 L743.09 137.84 L743.84 138 L744.59 138.21 L745.34 138.46 L746.09 138.73 L746.84 139.02 L747.6 139.32 L748.35 139.62 L749.1 139.91 L749.85 140.18 L750.6 140.43 L751.35 140.66 L752.1 140.86 L752.85 141.03 L753.6 141.16 L754.36 141.26 L755.11 141.33 L755.86 141.37 L756.61 141.37 L757.36 141.35 L758.11 141.29 L758.86 141.2 L759.61 141.08 L760.37 140.93 L761.12 140.76 L761.87 140.55 L762.62 140.32 L763.37 140.07 L764.12 139.79 L764.87 139.5 L765.62 139.2 L766.37 138.89 L767.13 138.58 L767.88 138.28 L768.63 137.99 L769.38 137.72 L770.13 137.49 L770.88 137.28 L771.63 137.12 L772.38 137.01 L773.13 136.95 L773.89 136.95 L774.64 136.98 L775.39 137.04 L776.14 137.13 L776.89 137.23 L777.64 137.35 L778.39 137.49 L779.14 137.65 L779.9 137.82 L780.65 138.01 L781.4 138.21 L782.15 138.41 L782.9 138.62 L783.65 138.84 L784.4 139.06 L785.15 139.27 L785.9 139.49 L786.66 139.7 L787.41 139.91 L788.16 140.11 L788.91 140.3 L789.66 140.48 L790.41 140.66 L791.16 140.82 L791.91 140.97 L792.67 141.12 L793.42 141.25 L794.17 141.37 L794.92 141.48 L795.67 141.59 L796.42 141.68 L797.17 141.76 L797.92 141.84 L798.67 141.91 L799.43 141.97 L800.18 142.03 L800.93 142.08 L801.68 142.13 L802.43 142.17 L803.18 142.21 L803.93 142.24 L804.68 142.28 L805.43 142.31 L806.19 142.33 L806.94 142.36 L807.69 142.38 L808.44 142.41 L809.19 142.43 L809.94 142.45 L810.69 142.47 L811.44 142.49 L812.2 142.51 L812.95 142.52 L813.7 142.54 L814.45 142.56 L815.2 142.57 L815.95 142.59 L816.7 142.61 L817.45 142.62 L818.2 142.64 L818.96 142.65 L819.71 142.67 L820.46 142.68 L821.21 142.7 L821.96 142.71 L822.71 142.72 L823.46 142.74 L824.21 142.75 L824.97 142.76 L825.72 142.77 L826.47 142.79 L827.22 142.8 L827.97 142.81 L828.72 142.82 L829.47 142.83 L830.22 142.84 L830.97 142.85 L831.73 142.86 L832.48 142.87 L833.23 142.88 L833.98 142.89 L834.73 142.9 L835.48 142.91 L836.23 142.92 L836.98 142.93 L837.73 142.93 L838.49 142.94 L839.24 142.95 L839.99 142.96 L840.74 142.96 L841.49 142.97 L842.24 142.98 L842.99 142.98 L843.74 142.99 L844.5 142.99 L845.25 143 L846 143 L846.75 143.42 L847.5 144.4 L847.5 144.4 L846.75 145.38 L846 145.8 L845.25 145.8 L844.5 145.81 L843.74 145.81 L842.99 145.82 L842.24 145.82 L841.49 145.83 L840.74 145.84 L839.99 145.84 L839.24 145.85 L838.49 145.86 L837.73 145.87 L836.98 145.87 L836.23 145.88 L835.48 145.89 L834.73 145.9 L833.98 145.91 L833.23 145.92 L832.48 145.93 L831.73 145.94 L830.97 145.95 L830.22 145.96 L829.47 145.97 L828.72 145.98 L827.97 145.99 L827.22 146 L826.47 146.01 L825.72 146.03 L824.97 146.04 L824.21 146.05 L823.46 146.06 L822.71 146.08 L821.96 146.09 L821.21 146.1 L820.46 146.12 L819.71 146.13 L818.96 146.15 L818.2 146.16 L817.45 146.18 L816.7 146.19 L815.95 146.21 L815.2 146.23 L814.45 146.24 L813.7 146.26 L812.95 146.28 L812.2 146.29 L811.44 146.31 L810.69 146.33 L809.94 146.35 L809.19 146.37 L808.44 146.39 L807.69 146.42 L806.94 146.44 L806.19 146.47 L805.43 146.49 L804.68 146.52 L803.93 146.56 L803.18 146.59 L802.43 146.63 L801.68 146.67 L800.93 146.72 L800.18 146.77 L799.43 146.83 L798.67 146.89 L797.92 146.96 L797.17 147.04 L796.42 147.12 L795.67 147.21 L794.92 147.32 L794.17 147.43 L793.42 147.55 L792.67 147.68 L791.91 147.83 L791.16 147.98 L790.41 148.14 L789.66 148.32 L788.91 148.5 L788.16 148.69 L787.41 148.89 L786.66 149.1 L785.9 149.31 L785.15 149.53 L784.4 149.74 L783.65 149.96 L782.9 150.18 L782.15 150.39 L781.4 150.59 L780.65 150.79 L779.9 150.98 L779.14 151.15 L778.39 151.31 L777.64 151.45 L776.89 151.57 L776.14 151.67 L775.39 151.76 L774.64 151.82 L773.89 151.85 L773.13 151.85 L772.38 151.79 L771.63 151.68 L770.88 151.52 L770.13 151.31 L769.38 151.08 L768.63 150.81 L767.88 150.52 L767.13 150.22 L766.37 149.91 L765.62 149.6 L764.87 149.3 L764.12 149.01 L763.37 148.73 L762.62 148.48 L761.87 148.25 L761.12 148.04 L760.37 147.87 L759.61 147.72 L758.86 147.6 L758.11 147.51 L757.36 147.45 L756.61 147.43 L755.86 147.43 L755.11 147.47 L754.36 147.54 L753.6 147.64 L752.85 147.77 L752.1 147.94 L751.35 148.14 L750.6 148.37 L749.85 148.62 L749.1 148.89 L748.35 149.18 L747.6 149.48 L746.84 149.78 L746.09 150.07 L745.34 150.34 L744.59 150.59 L743.84 150.8 L743.09 150.96 L742.34 151.06 L741.59 151.12 L740.83 151.11 L740.08 151.06 L739.33 150.99 L738.58 150.89 L737.83 150.77 L737.08 150.63 L736.33 150.46 L735.58 150.28 L734.83 150.09 L734.07 149.88 L733.32 149.67 L732.57 149.45 L731.82 149.23 L731.07 149.02 L730.32 148.8 L729.57 148.59 L728.82 148.39 L728.07 148.19 L727.31 148.01 L726.56 147.84 L725.81 147.68 L725.06 147.53 L724.31 147.4 L723.56 147.27 L722.81 147.16 L722.06 147.06 L721.3 146.97 L720.55 146.88 L719.8 146.81 L719.05 146.75 L718.3 146.69 L717.55 146.63 L716.8 146.59 L716.05 146.54 L715.3 146.5 L714.54 146.47 L713.79 146.44 L713.04 146.41 L712.29 146.38 L711.54 146.35 L710.79 146.33 L710.04 146.3 L709.29 146.28 L708.53 146.26 L707.78 146.24 L707.03 146.21 L706.28 146.19 L705.53 146.17 L704.78 146.16 L704.03 146.14 L703.28 146.12 L702.53 146.1 L701.77 146.08 L701.02 146.07 L700.27 146.05 L699.52 146.04 L698.77 146.02 L698.02 146.01 L697.27 145.99 L696.52 145.98 L695.77 145.96 L695.01 145.95 L694.26 145.94 L693.51 145.93 L692.76 145.91 L692.01 145.9 L691.26 145.89 L690.51 145.88 L689.76 145.87 L689 145.86 L688.25 145.85 L687.5 145.84 L686.75 145.42 L686 144.4Z" fill="url(#g0)"/>
<circle cx="682" cy="144.4" r="1.4" fill="url(#g0)"/>
<circle cx="851.6" cy="144.4" r="1.4" fill="url(#g0)"/>
<text x="611.3" y="147.3" font-size="8.5" text-anchor="end" fill="#555" stroke="#555" stroke-width="0.16">87</text>
<path d="M711 161.94 L711.75 161.02 L712.5 160.64 L713.26 160.64 L714.01 160.64 L714.76 160.64 L715.51 160.64 L716.26 160.64 L717.01 160.64 L717.77 160.64 L718.52 160.64 L719.27 160.64 L720.02 160.64 L720.77 160.64 L721.52 160.64 L722.28 160.64 L723.03 160.64 L723.78 160.64 L724.53 160.63 L725.28 160.63 L726.03 160.62 L726.79 160.61 L727.54 160.59 L728.29 160.57 L729.04 160.55 L729.79 160.51 L730.54 160.47 L731.3 160.41 L732.05 160.34 L732.8 160.25 L733.55 160.14 L734.3 160.01 L735.06 159.86 L735.81 159.68 L736.56 159.47 L737.31 159.23 L738.06 158.96 L738.81 158.66 L739.57 158.34 L740.32 158 L741.07 157.64 L741.82 157.26 L742.57 156.89 L743.32 156.53 L744.08 156.17 L744.83 155.85 L745.58 155.56 L746.33 155.31 L747.08 155.12 L747.83 154.98 L748.59 154.9 L749.34 154.89 L750.09 154.98 L750.84 155.17 L751.59 155.44 L752.34 155.78 L753.1 156.17 L753.85 156.6 L754.6 157.04 L755.35 157.47 L756.1 157.87 L756.86 158.24 L757.61 158.57 L758.36 158.84 L759.11 159.05 L759.86 159.22 L760.61 159.33 L761.37 159.4 L762.12 159.43 L762.87 159.42 L763.62 159.39 L764.37 159.34 L765.12 159.28 L765.88 159.2 L766.63 159.13 L767.38 159.05 L768.13 158.98 L768.88 158.91 L769.63 158.85 L770.39 158.79 L771.14 158.74 L771.89 158.7 L772.64 158.65 L773.39 158.62 L774.14 158.58 L774.9 158.55 L775.65 158.53 L776.4 158.5 L777.15 158.48 L777.9 158.47 L778.66 158.45 L779.41 158.44 L780.16 158.44 L780.91 158.43 L781.66 158.42 L782.41 158.42 L783.17 158.42 L783.92 158.42 L784.67 158.43 L785.42 158.43 L786.17 158.44 L786.92 158.45 L787.68 158.46 L788.43 158.47 L789.18 158.49 L789.93 158.51 L790.68 158.53 L791.43 158.56 L792.19 158.6 L792.94 158.64 L793.69 158.69 L794.44 158.75 L795.19 158.81 L795.94 158.88 L796.7 158.95 L797.45 159.03 L798.2 159.11 L798.95 159.19 L799.7 159.28 L800.46 159.36 L801.21 159.45 L801.96 159.53 L802.71 159.61 L803.46 159.7 L804.21 159.77 L804.97 159.85 L805.72 159.92 L806.47 159.99 L807.22 160.06 L807.97 160.12 L808.72 160.17 L809.48 160.23 L810.23 160.28 L810.98 160.32 L811.73 160.36 L812.48 160.4 L813.23 160.43 L813.99 160.46 L814.74 160.49 L815.49 160.51 L816.24 160.53 L816.99 160.55 L817.74 160.56 L818.5 160.58 L819.25 160.98 L820 161.94 L820 161.94 L819.25 162.91 L818.5 163.31 L817.74 163.33 L816.99 163.34 L816.24 163.36 L815.49 163.38 L814.74 163.4 L813.99 163.43 L813.23 163.46 L812.48 163.49 L811.73 163.53 L810.98 163.57 L810.23 163.61 L809.48 163.66 L808.72 163.72 L807.97 163.77 L807.22 163.83 L806.47 163.9 L805.72 163.97 L804.97 164.04 L804.21 164.12 L803.46 164.19 L802.71 164.28 L801.96 164.36 L801.21 164.44 L800.46 164.53 L799.7 164.61 L798.95 164.7 L798.2 164.78 L797.45 164.86 L796.7 164.94 L795.94 165.01 L795.19 165.08 L794.44 165.14 L793.69 165.2 L792.94 165.25 L792.19 165.29 L791.43 165.33 L790.68 165.36 L789.93 165.38 L789.18 165.4 L788.43 165.42 L787.68 165.43 L786.92 165.44 L786.17 165.45 L785.42 165.46 L784.67 165.46 L783.92 165.47 L783.17 165.47 L782.41 165.47 L781.66 165.47 L780.91 165.46 L780.16 165.45 L779.41 165.45 L778.66 165.44 L777.9 165.42 L777.15 165.41 L776.4 165.39 L775.65 165.36 L774.9 165.34 L774.14 165.31 L773.39 165.27 L772.64 165.24 L771.89 165.19 L771.14 165.15 L770.39 165.1 L769.63 165.04 L768.88 164.98 L768.13 164.91 L767.38 164.84 L766.63 164.76 L765.88 164.69 L765.12 164.61 L764.37 164.55 L763.62 164.5 L762.87 164.47 L762.12 164.46 L761.37 164.49 L760.61 164.56 L759.86 164.67 L759.11 164.84 L758.36 165.05 L757.61 165.32 L756.86 165.65 L756.1 166.02 L755.35 166.42 L754.6 166.85 L753.85 167.29 L753.1 167.72 L752.34 168.11 L751.59 168.45 L750.84 168.72 L750.09 168.91 L749.34 169 L748.59 168.99 L747.83 168.91 L747.08 168.77 L746.33 168.58 L745.58 168.33 L744.83 168.04 L744.08 167.72 L743.32 167.36 L742.57 167 L741.82 166.63 L741.07 166.25 L740.32 165.89 L739.57 165.55 L738.81 165.23 L738.06 164.93 L737.31 164.66 L736.56 164.42 L735.81 164.21 L735.06 164.03 L734.3 163.88 L733.55 163.75 L732.8 163.64 L732.05 163.55 L731.3 163.48 L730.54 163.42 L729.79 163.38 L729.04 163.34 L728.29 163.32 L727.54 163.3 L726.79 163.28 L726.03 163.27 L725.28 163.26 L724.53 163.26 L723.78 163.25 L723.03 163.25 L722.28 163.25 L721.52 163.25 L720.77 163.25 L720.02 163.25 L719.27 163.25 L718.52 163.25 L717.77 163.25 L717.01 163.25 L716.26 163.25 L715.51 163.25 L714.76 163.25 L714.01 163.25 L713.26 163.25 L712.5 163.25 L711.75 162.87 L711 161.94Z" fill="url(#g1)"/>
<circle cx="705" cy="161.94" r="1.4" fill="url(#g1)"/>
<circle cx="825" cy="161.94" r="1.4" fill="url(#g1)"/>
<circle cx="829" cy="161.94" r="1.4" fill="url(#g1)"/>
<text x="611.3" y="164.84" font-size="8.5" text-anchor="end" fill="#555" stroke="#555" stroke-width="0.16">138</text>
<path d="M709 179.49 L709.75 178.48 L710.5 178.05 L711.25 178.03 L712 178.02 L712.75 178.01 L713.5 177.99 L714.25 177.98 L715 177.96 L715.75 177.94 L716.5 177.93 L717.25 177.91 L718 177.89 L718.75 177.87 L719.5 177.84 L720.25 177.82 L721 177.79 L721.75 177.76 L722.5 177.73 L723.25 177.69 L724 177.65 L724.75 177.6 L725.5 177.55 L726.25 177.49 L727 177.42 L727.75 177.34 L728.5 177.25 L729.25 177.14 L730 177.02 L730.75 176.88 L731.5 176.72 L732.25 176.54 L733 176.34 L733.75 176.12 L734.5 175.88 L735.25 175.62 L736 175.34 L736.75 175.05 L737.5 174.74 L738.25 174.43 L739 174.13 L739.75 173.82 L740.5 173.53 L741.25 173.26 L742 173.01 L742.75 172.79 L743.5 172.61 L744.25 172.47 L745 172.38 L745.75 172.34 L746.5 172.36 L747.25 172.48 L748 172.7 L748.75 173.01 L749.5 173.38 L750.25 173.8 L751 174.26 L751.75 174.73 L752.5 175.19 L753.25 175.63 L754 176.03 L754.75 176.38 L755.5 176.67 L756.25 176.91 L757 177.07 L757.75 177.17 L758.5 177.2 L759.25 177.17 L760 177.06 L760.75 176.89 L761.5 176.66 L762.25 176.37 L763 176.03 L763.75 175.65 L764.5 175.25 L765.25 174.83 L766 174.42 L766.75 174.04 L767.5 173.72 L768.25 173.45 L769 173.28 L769.75 173.19 L770.5 173.19 L771.25 173.22 L772 173.27 L772.75 173.34 L773.5 173.43 L774.25 173.54 L775 173.67 L775.75 173.81 L776.5 173.96 L777.25 174.12 L778 174.29 L778.75 174.46 L779.5 174.63 L780.25 174.8 L781 174.97 L781.75 175.13 L782.5 175.29 L783.25 175.44 L784 175.58 L784.75 175.71 L785.5 175.83 L786.25 175.94 L787 176.04 L787.75 176.13 L788.5 176.21 L789.25 176.29 L790 176.35 L790.75 176.41 L791.5 176.46 L792.25 176.51 L793 176.55 L793.75 176.58 L794.5 176.62 L795.25 176.65 L796 176.67 L796.75 176.69 L797.5 176.72 L798.25 176.74 L799 176.76 L799.75 176.77 L800.5 176.79 L801.25 176.81 L802 176.82 L802.75 176.84 L803.5 176.85 L804.25 176.87 L805 176.89 L805.75 176.9 L806.5 176.92 L807.25 176.93 L808 176.95 L808.75 176.96 L809.5 176.98 L810.25 176.99 L811 177.01 L811.75 177.03 L812.5 177.04 L813.25 177.06 L814 177.07 L814.75 177.09 L815.5 177.11 L816.25 177.12 L817 177.14 L817.75 177.15 L818.5 177.17 L819.25 177.19 L820 177.2 L820.75 177.22 L821.5 177.23 L822.25 177.25 L823 177.27 L823.75 177.28 L824.5 177.3 L825.25 177.31 L826 177.33 L826.75 177.34 L827.5 177.36 L828.25 177.38 L829 177.39 L829.75 177.41 L830.5 177.42 L831.25 177.44 L832 177.45 L832.75 177.47 L833.5 177.48 L834.25 177.5 L835 177.51 L835.75 177.52 L836.5 177.54 L837.25 177.55 L838 177.57 L838.75 177.58 L839.5 177.59 L840.25 177.61 L841 177.62 L841.75 177.63 L842.5 177.65 L843.25 177.66 L844 177.67 L844.75 177.68 L845.5 177.7 L846.25 177.71 L847 177.72 L847.75 177.73 L848.5 177.74 L849.25 177.75 L850 177.77 L850.75 177.78 L851.5 177.79 L852.25 178.29 L853 179.49 L853 179.49 L852.25 180.69 L851.5 181.19 L850.75 181.2 L850 181.21 L849.25 181.23 L848.5 181.24 L847.75 181.25 L847 181.26 L846.25 181.27 L845.5 181.28 L844.75 181.3 L844 181.31 L843.25 181.32 L842.5 181.33 L841.75 181.35 L841 181.36 L840.25 181.37 L839.5 181.39 L838.75 181.4 L838 181.41 L837.25 181.43 L836.5 181.44 L835.75 181.46 L835 181.47 L834.25 181.48 L833.5 181.5 L832.75 181.51 L832 181.53 L831.25 181.54 L830.5 181.56 L829.75 181.57 L829 181.59 L828.25 181.6 L827.5 181.62 L826.75 181.64 L826 181.65 L825.25 181.67 L824.5 181.68 L823.75 181.7 L823 181.71 L822.25 181.73 L821.5 181.75 L820.75 181.76 L820 181.78 L819.25 181.79 L818.5 181.81 L817.75 181.83 L817 181.84 L816.25 181.86 L815.5 181.87 L814.75 181.89 L814 181.91 L813.25 181.92 L812.5 181.94 L811.75 181.95 L811 181.97 L810.25 181.99 L809.5 182 L808.75 182.02 L808 182.03 L807.25 182.05 L806.5 182.06 L805.75 182.08 L805 182.09 L804.25 182.11 L803.5 182.13 L802.75 182.14 L802 182.16 L801.25 182.17 L800.5 182.19 L799.75 182.21 L799 182.22 L798.25 182.24 L797.5 182.26 L796.75 182.29 L796 182.31 L795.25 182.33 L794.5 182.36 L793.75 182.4 L793 182.43 L792.25 182.47 L791.5 182.52 L790.75 182.57 L790 182.63 L789.25 182.69 L788.5 182.77 L787.75 182.85 L787 182.94 L786.25 183.04 L785.5 183.15 L784.75 183.27 L784 183.4 L783.25 183.54 L782.5 183.69 L781.75 183.85 L781 184.01 L780.25 184.18 L779.5 184.35 L778.75 184.52 L778 184.69 L777.25 184.86 L776.5 185.02 L775.75 185.17 L775 185.31 L774.25 185.44 L773.5 185.55 L772.75 185.64 L772 185.71 L771.25 185.76 L770.5 185.79 L769.75 185.79 L769 185.7 L768.25 185.53 L767.5 185.26 L766.75 184.94 L766 184.56 L765.25 184.15 L764.5 183.73 L763.75 183.33 L763 182.95 L762.25 182.61 L761.5 182.32 L760.75 182.09 L760 181.92 L759.25 181.81 L758.5 181.78 L757.75 181.81 L757 181.91 L756.25 182.07 L755.5 182.31 L754.75 182.6 L754 182.95 L753.25 183.35 L752.5 183.79 L751.75 184.25 L751 184.72 L750.25 185.18 L749.5 185.6 L748.75 185.97 L748 186.28 L747.25 186.5 L746.5 186.62 L745.75 186.64 L745 186.6 L744.25 186.51 L743.5 186.37 L742.75 186.19 L742 185.97 L741.25 185.72 L740.5 185.45 L739.75 185.16 L739 184.85 L738.25 184.55 L737.5 184.24 L736.75 183.93 L736 183.64 L735.25 183.36 L734.5 183.1 L733.75 182.86 L733 182.64 L732.25 182.44 L731.5 182.26 L730.75 182.1 L730 181.96 L729.25 181.84 L728.5 181.73 L727.75 181.64 L727 181.56 L726.25 181.49 L725.5 181.43 L724.75 181.38 L724 181.33 L723.25 181.29 L722.5 181.25 L721.75 181.22 L721 181.19 L720.25 181.16 L719.5 181.14 L718.75 181.11 L718 181.09 L717.25 181.07 L716.5 181.05 L715.75 181.04 L715 181.02 L714.25 181 L713.5 180.99 L712.75 180.97 L712 180.96 L711.25 180.95 L710.5 180.93 L709.75 180.5 L709 179.49Z" fill="url(#g2)"/>
<circle cx="697.6" cy="179.49" r="1.4" fill="url(#g2)"/>
<circle cx="702" cy="179.49" r="1.4" fill="url(#g2)"/>
<circle cx="860" cy="179.49" r="1.4" fill="url(#g2)"/>
<circle cx="866" cy="179.49" r="1.4" fill="url(#g2)"/>
<text x="611.3" y="182.39" font-size="8.5" text-anchor="end" fill="#555" stroke="#555" stroke-width="0.16">85</text>
<path d="M676 197.04 L676.75 196.04 L677.5 195.62 L678.25 195.62 L679 195.61 L679.75 195.61 L680.5 195.6 L681.25 195.6 L682 195.59 L682.75 195.59 L683.5 195.58 L684.25 195.58 L685 195.57 L685.75 195.57 L686.5 195.56 L687.25 195.55 L688 195.55 L688.75 195.54 L689.5 195.53 L690.25 195.53 L691 195.52 L691.75 195.51 L692.5 195.51 L693.25 195.5 L694 195.49 L694.75 195.48 L695.5 195.48 L696.25 195.47 L697 195.46 L697.75 195.45 L698.5 195.44 L699.25 195.43 L700 195.42 L700.75 195.41 L701.5 195.41 L702.25 195.4 L703 195.39 L703.75 195.38 L704.5 195.37 L705.25 195.36 L706 195.35 L706.75 195.33 L707.5 195.32 L708.25 195.31 L709 195.3 L709.75 195.29 L710.5 195.28 L711.25 195.27 L712 195.26 L712.75 195.25 L713.5 195.23 L714.25 195.22 L715 195.21 L715.75 195.2 L716.5 195.19 L717.25 195.17 L718 195.16 L718.75 195.15 L719.5 195.14 L720.25 195.12 L721 195.11 L721.75 195.1 L722.5 195.08 L723.25 195.07 L724 195.06 L724.75 195.05 L725.5 195.03 L726.25 195.02 L727 195.01 L727.75 194.99 L728.5 194.98 L729.25 194.97 L730 194.96 L730.75 194.94 L731.5 194.93 L732.25 194.92 L733 194.9 L733.75 194.89 L734.5 194.88 L735.25 194.87 L736 194.85 L736.75 194.84 L737.5 194.83 L738.25 194.82 L739 194.81 L739.75 194.79 L740.5 194.78 L741.25 194.77 L742 194.76 L742.75 194.75 L743.5 194.74 L744.25 194.73 L745 194.71 L745.75 194.7 L746.5 194.69 L747.25 194.68 L748 194.66 L748.75 194.65 L749.5 194.63 L750.25 194.61 L751 194.58 L751.75 194.55 L752.5 194.5 L753.25 194.45 L754 194.38 L754.75 194.29 L755.5 194.18 L756.25 194.04 L757 193.87 L757.75 193.67 L758.5 193.44 L759.25 193.16 L760 192.86 L760.75 192.52 L761.5 192.15 L762.25 191.76 L763 191.36 L763.75 190.96 L764.5 190.58 L765.25 190.22 L766 189.9 L766.75 189.64 L767.5 189.45 L768.25 189.33 L769 189.29 L769.75 189.31 L770.5 189.37 L771.25 189.47 L772 189.61 L772.75 189.78 L773.5 189.99 L774.25 190.22 L775 190.47 L775.75 190.74 L776.5 191.03 L777.25 191.32 L778 191.61 L778.75 191.9 L779.5 192.18 L780.25 192.46 L781 192.72 L781.75 192.97 L782.5 193.2 L783.25 193.41 L784 193.61 L784.75 193.79 L785.5 193.96 L786.25 194.1 L787 194.23 L787.75 194.35 L788.5 194.45 L789.25 194.54 L790 194.62 L790.75 194.69 L791.5 194.75 L792.25 194.81 L793 194.85 L793.75 194.9 L794.5 194.93 L795.25 194.97 L796 195 L796.75 195.03 L797.5 195.06 L798.25 195.08 L799 195.11 L799.75 195.13 L800.5 195.15 L801.25 195.18 L802 195.2 L802.75 195.22 L803.5 195.24 L804.25 195.26 L805 195.27 L805.75 195.29 L806.5 195.31 L807.25 195.33 L808 195.35 L808.75 195.36 L809.5 195.38 L810.25 195.39 L811 195.41 L811.75 195.42 L812.5 195.44 L813.25 195.45 L814 195.47 L814.75 195.48 L815.5 195.49 L816.25 195.5 L817 195.52 L817.75 195.53 L818.5 195.54 L819.25 195.55 L820 195.56 L820.75 195.57 L821.5 195.58 L822.25 195.59 L823 195.6 L823.75 195.6 L824.5 195.61 L825.25 195.62 L826 195.63 L826.75 195.63 L827.5 195.64 L828.25 195.65 L829 195.65 L829.75 195.66 L830.5 195.66 L831.25 195.67 L832 195.67 L832.75 195.68 L833.5 195.68 L834.25 195.68 L835 195.69 L835.75 195.69 L836.5 195.69 L837.25 196.09 L838 197.04 L838 197.04 L837.25 197.98 L836.5 198.38 L835.75 198.38 L835 198.38 L834.25 198.39 L833.5 198.39 L832.75 198.39 L832 198.4 L831.25 198.4 L830.5 198.41 L829.75 198.41 L829 198.42 L828.25 198.42 L827.5 198.43 L826.75 198.44 L826 198.44 L825.25 198.45 L824.5 198.46 L823.75 198.47 L823 198.47 L822.25 198.48 L821.5 198.49 L820.75 198.5 L820 198.51 L819.25 198.52 L818.5 198.53 L817.75 198.54 L817 198.55 L816.25 198.57 L815.5 198.58 L814.75 198.59 L814 198.6 L813.25 198.62 L812.5 198.63 L811.75 198.65 L811 198.66 L810.25 198.68 L809.5 198.69 L808.75 198.71 L808 198.72 L807.25 198.74 L806.5 198.76 L805.75 198.78 L805 198.8 L804.25 198.81 L803.5 198.83 L802.75 198.85 L802 198.87 L801.25 198.89 L800.5 198.92 L799.75 198.94 L799 198.96 L798.25 198.99 L797.5 199.01 L796.75 199.04 L796 199.07 L795.25 199.1 L794.5 199.14 L793.75 199.17 L793 199.22 L792.25 199.26 L791.5 199.32 L790.75 199.38 L790 199.45 L789.25 199.53 L788.5 199.62 L787.75 199.72 L787 199.84 L786.25 199.97 L785.5 200.11 L784.75 200.28 L784 200.46 L783.25 200.66 L782.5 200.87 L781.75 201.1 L781 201.35 L780.25 201.61 L779.5 201.89 L778.75 202.17 L778 202.46 L777.25 202.75 L776.5 203.04 L775.75 203.33 L775 203.6 L774.25 203.85 L773.5 204.08 L772.75 204.29 L772 204.46 L771.25 204.6 L770.5 204.7 L769.75 204.76 L769 204.79 L768.25 204.74 L767.5 204.62 L766.75 204.43 L766 204.17 L765.25 203.85 L764.5 203.49 L763.75 203.11 L763 202.71 L762.25 202.31 L761.5 201.92 L760.75 201.55 L760 201.21 L759.25 200.91 L758.5 200.63 L757.75 200.4 L757 200.2 L756.25 200.03 L755.5 199.89 L754.75 199.78 L754 199.69 L753.25 199.62 L752.5 199.57 L751.75 199.52 L751 199.49 L750.25 199.46 L749.5 199.44 L748.75 199.42 L748 199.41 L747.25 199.39 L746.5 199.38 L745.75 199.37 L745 199.36 L744.25 199.34 L743.5 199.33 L742.75 199.32 L742 199.31 L741.25 199.3 L740.5 199.29 L739.75 199.28 L739 199.26 L738.25 199.25 L737.5 199.24 L736.75 199.23 L736 199.22 L735.25 199.2 L734.5 199.19 L733.75 199.18 L733 199.17 L732.25 199.15 L731.5 199.14 L730.75 199.13 L730 199.11 L729.25 199.1 L728.5 199.09 L727.75 199.08 L727 199.06 L726.25 199.05 L725.5 199.04 L724.75 199.02 L724 199.01 L723.25 199 L722.5 198.99 L721.75 198.97 L721 198.96 L720.25 198.95 L719.5 198.93 L718.75 198.92 L718 198.91 L717.25 198.9 L716.5 198.88 L715.75 198.87 L715 198.86 L714.25 198.85 L713.5 198.84 L712.75 198.82 L712 198.81 L711.25 198.8 L710.5 198.79 L709.75 198.78 L709 198.77 L708.25 198.76 L707.5 198.75 L706.75 198.74 L706 198.72 L705.25 198.71 L704.5 198.7 L703.75 198.69 L703 198.68 L702.25 198.67 L701.5 198.66 L700.75 198.66 L700 198.65 L699.25 198.64 L698.5 198.63 L697.75 198.62 L697 198.61 L696.25 198.6 L695.5 198.59 L694.75 198.59 L694 198.58 L693.25 198.57 L692.5 198.56 L691.75 198.56 L691 198.55 L690.25 198.54 L689.5 198.54 L688.75 198.53 L688 198.52 L687.25 198.52 L686.5 198.51 L685.75 198.5 L685 198.5 L684.25 198.49 L683.5 198.49 L682.75 198.48 L682 198.48 L681.25 198.47 L680.5 198.47 L679.75 198.46 L679 198.46 L678.25 198.45 L677.5 198.45 L676.75 198.03 L676 197.04Z" fill="url(#g3)"/>
<circle cx="653.7" cy="197.04" r="1.4" fill="url(#g3)"/>
<circle cx="658.3" cy="197.04" r="1.4" fill="url(#g3)"/>
<circle cx="667.5" cy="197.04" r="1.4" fill="url(#g3)"/>
<circle cx="671.8" cy="197.04" r="1.4" fill="url(#g3)"/>
<circle cx="845.5" cy="197.04" r="1.4" fill="url(#g3)"/>
<circle cx="851" cy="197.04" r="1.4" fill="url(#g3)"/>
<text x="611.3" y="199.94" font-size="8.5" text-anchor="end" fill="#555" stroke="#555" stroke-width="0.16">89</text>
<path d="M669 214.58 L669.75 213.59 L670.5 213.17 L671.25 213.17 L672.01 213.16 L672.76 213.16 L673.51 213.15 L674.26 213.15 L675.01 213.15 L675.76 213.14 L676.51 213.14 L677.26 213.13 L678.02 213.13 L678.77 213.12 L679.52 213.12 L680.27 213.11 L681.02 213.1 L681.77 213.1 L682.52 213.09 L683.28 213.09 L684.03 213.08 L684.78 213.07 L685.53 213.07 L686.28 213.06 L687.03 213.05 L687.78 213.05 L688.53 213.04 L689.29 213.03 L690.04 213.02 L690.79 213.02 L691.54 213.01 L692.29 213 L693.04 212.99 L693.79 212.98 L694.54 212.98 L695.3 212.97 L696.05 212.96 L696.8 212.95 L697.55 212.94 L698.3 212.93 L699.05 212.92 L699.8 212.91 L700.56 212.9 L701.31 212.89 L702.06 212.88 L702.81 212.87 L703.56 212.86 L704.31 212.85 L705.06 212.84 L705.81 212.83 L706.57 212.82 L707.32 212.81 L708.07 212.8 L708.82 212.79 L709.57 212.78 L710.32 212.77 L711.07 212.75 L711.83 212.74 L712.58 212.73 L713.33 212.72 L714.08 212.71 L714.83 212.7 L715.58 212.68 L716.33 212.67 L717.08 212.66 L717.84 212.65 L718.59 212.63 L719.34 212.62 L720.09 212.61 L720.84 212.6 L721.59 212.58 L722.34 212.57 L723.1 212.56 L723.85 212.55 L724.6 212.53 L725.35 212.52 L726.1 212.51 L726.85 212.49 L727.6 212.48 L728.35 212.47 L729.11 212.46 L729.86 212.44 L730.61 212.43 L731.36 212.42 L732.11 212.4 L732.86 212.39 L733.61 212.38 L734.37 212.37 L735.12 212.35 L735.87 212.34 L736.62 212.33 L737.37 212.32 L738.12 212.3 L738.87 212.29 L739.62 212.28 L740.38 212.27 L741.13 212.26 L741.88 212.25 L742.63 212.23 L743.38 212.22 L744.13 212.21 L744.88 212.2 L745.63 212.19 L746.39 212.18 L747.14 212.17 L747.89 212.16 L748.64 212.15 L749.39 212.14 L750.14 212.13 L750.89 212.12 L751.65 212.11 L752.4 212.1 L753.15 212.09 L753.9 212.07 L754.65 212.06 L755.4 212.04 L756.15 212.02 L756.9 211.99 L757.66 211.95 L758.41 211.89 L759.16 211.82 L759.91 211.73 L760.66 211.61 L761.41 211.46 L762.16 211.28 L762.92 211.05 L763.67 210.79 L764.42 210.48 L765.17 210.13 L765.92 209.75 L766.67 209.34 L767.42 208.91 L768.17 208.48 L768.93 208.07 L769.68 207.69 L770.43 207.37 L771.18 207.11 L771.93 206.93 L772.68 206.84 L773.43 206.84 L774.19 206.88 L774.94 206.96 L775.69 207.07 L776.44 207.22 L777.19 207.4 L777.94 207.61 L778.69 207.84 L779.44 208.1 L780.2 208.36 L780.95 208.64 L781.7 208.93 L782.45 209.22 L783.2 209.51 L783.95 209.8 L784.7 210.07 L785.46 210.34 L786.21 210.6 L786.96 210.84 L787.71 211.07 L788.46 211.29 L789.21 211.49 L789.96 211.67 L790.71 211.83 L791.47 211.98 L792.22 212.12 L792.97 212.24 L793.72 212.35 L794.47 212.45 L795.22 212.54 L795.97 212.62 L796.72 212.69 L797.48 212.75 L798.23 212.8 L798.98 212.85 L799.73 212.9 L800.48 212.93 L801.23 212.97 L801.98 213 L802.74 213.03 L803.49 213.05 L804.24 213.07 L804.99 213.09 L805.74 213.11 L806.49 213.13 L807.24 213.14 L807.99 213.16 L808.75 213.17 L809.5 213.18 L810.25 213.6 L811 214.58 L811 214.58 L810.25 215.56 L809.5 215.98 L808.75 215.99 L807.99 216 L807.24 216.02 L806.49 216.03 L805.74 216.05 L804.99 216.07 L804.24 216.09 L803.49 216.11 L802.74 216.13 L801.98 216.16 L801.23 216.19 L800.48 216.23 L799.73 216.26 L798.98 216.31 L798.23 216.36 L797.48 216.41 L796.72 216.47 L795.97 216.54 L795.22 216.62 L794.47 216.71 L793.72 216.81 L792.97 216.92 L792.22 217.04 L791.47 217.18 L790.71 217.33 L789.96 217.49 L789.21 217.67 L788.46 217.87 L787.71 218.09 L786.96 218.32 L786.21 218.56 L785.46 218.82 L784.7 219.09 L783.95 219.36 L783.2 219.65 L782.45 219.94 L781.7 220.23 L780.95 220.52 L780.2 220.8 L779.44 221.06 L778.69 221.32 L777.94 221.55 L777.19 221.76 L776.44 221.94 L775.69 222.09 L774.94 222.2 L774.19 222.28 L773.43 222.32 L772.68 222.32 L771.93 222.23 L771.18 222.05 L770.43 221.79 L769.68 221.47 L768.93 221.09 L768.17 220.68 L767.42 220.25 L766.67 219.82 L765.92 219.41 L765.17 219.03 L764.42 218.68 L763.67 218.37 L762.92 218.11 L762.16 217.88 L761.41 217.7 L760.66 217.55 L759.91 217.43 L759.16 217.34 L758.41 217.27 L757.66 217.21 L756.9 217.17 L756.15 217.14 L755.4 217.12 L754.65 217.1 L753.9 217.09 L753.15 217.07 L752.4 217.06 L751.65 217.05 L750.89 217.04 L750.14 217.03 L749.39 217.02 L748.64 217.01 L747.89 217 L747.14 216.99 L746.39 216.98 L745.63 216.97 L744.88 216.96 L744.13 216.95 L743.38 216.94 L742.63 216.93 L741.88 216.91 L741.13 216.9 L740.38 216.89 L739.62 216.88 L738.87 216.87 L738.12 216.86 L737.37 216.84 L736.62 216.83 L735.87 216.82 L735.12 216.81 L734.37 216.79 L733.61 216.78 L732.86 216.77 L732.11 216.76 L731.36 216.74 L730.61 216.73 L729.86 216.72 L729.11 216.7 L728.35 216.69 L727.6 216.68 L726.85 216.67 L726.1 216.65 L725.35 216.64 L724.6 216.63 L723.85 216.61 L723.1 216.6 L722.34 216.59 L721.59 216.58 L720.84 216.56 L720.09 216.55 L719.34 216.54 L718.59 216.53 L717.84 216.51 L717.08 216.5 L716.33 216.49 L715.58 216.48 L714.83 216.46 L714.08 216.45 L713.33 216.44 L712.58 216.43 L711.83 216.42 L711.07 216.41 L710.32 216.39 L709.57 216.38 L708.82 216.37 L708.07 216.36 L707.32 216.35 L706.57 216.34 L705.81 216.33 L705.06 216.32 L704.31 216.31 L703.56 216.3 L702.81 216.29 L702.06 216.28 L701.31 216.27 L700.56 216.26 L699.8 216.25 L699.05 216.24 L698.3 216.23 L697.55 216.22 L696.8 216.21 L696.05 216.2 L695.3 216.19 L694.54 216.18 L693.79 216.18 L693.04 216.17 L692.29 216.16 L691.54 216.15 L690.79 216.14 L690.04 216.14 L689.29 216.13 L688.53 216.12 L687.78 216.11 L687.03 216.11 L686.28 216.1 L685.53 216.09 L684.78 216.09 L684.03 216.08 L683.28 216.07 L682.52 216.07 L681.77 216.06 L681.02 216.06 L680.27 216.05 L679.52 216.04 L678.77 216.04 L678.02 216.03 L677.26 216.03 L676.51 216.02 L675.76 216.02 L675.01 216.01 L674.26 216.01 L673.51 216.01 L672.76 216 L672.01 216 L671.25 215.99 L670.5 215.99 L669.75 215.57 L669 214.58Z" fill="url(#g4)"/>
<circle cx="639.4" cy="214.58" r="1.4" fill="url(#g4)"/>
<circle cx="644.5" cy="214.58" r="1.4" fill="url(#g4)"/>
<circle cx="653.7" cy="214.58" r="1.4" fill="url(#g4)"/>
<circle cx="657.5" cy="214.58" r="1.4" fill="url(#g4)"/>
<circle cx="665" cy="214.58" r="1.4" fill="url(#g4)"/>
<text x="611.3" y="217.48" font-size="8.5" text-anchor="end" fill="#555" stroke="#555" stroke-width="0.16">38</text>
<path d="M707.7 232.12 L708.45 231.14 L709.21 230.73 L709.96 230.73 L710.72 230.72 L711.47 230.71 L712.22 230.7 L712.98 230.69 L713.73 230.68 L714.49 230.67 L715.24 230.66 L715.99 230.64 L716.75 230.63 L717.5 230.62 L718.26 230.6 L719.01 230.59 L719.76 230.57 L720.52 230.56 L721.27 230.54 L722.03 230.52 L722.78 230.5 L723.53 230.48 L724.29 230.46 L725.04 230.43 L725.8 230.41 L726.55 230.38 L727.3 230.35 L728.06 230.32 L728.81 230.28 L729.57 230.24 L730.32 230.2 L731.07 230.15 L731.83 230.09 L732.58 230.03 L733.34 229.96 L734.09 229.88 L734.84 229.79 L735.6 229.7 L736.35 229.59 L737.11 229.47 L737.86 229.34 L738.61 229.19 L739.37 229.04 L740.12 228.87 L740.88 228.69 L741.63 228.5 L742.38 228.31 L743.14 228.1 L743.89 227.9 L744.65 227.69 L745.4 227.48 L746.15 227.28 L746.91 227.09 L747.66 226.9 L748.42 226.74 L749.17 226.59 L749.92 226.46 L750.68 226.36 L751.43 226.28 L752.19 226.23 L752.94 226.21 L753.69 226.26 L754.45 226.41 L755.2 226.65 L755.96 226.97 L756.71 227.34 L757.46 227.72 L758.22 228.09 L758.97 228.43 L759.73 228.7 L760.48 228.89 L761.24 228.98 L761.99 228.98 L762.74 228.87 L763.5 228.65 L764.25 228.33 L765.01 227.93 L765.76 227.46 L766.51 226.93 L767.27 226.38 L768.02 225.83 L768.78 225.32 L769.53 224.87 L770.28 224.52 L771.04 224.28 L771.79 224.17 L772.55 224.18 L773.3 224.23 L774.05 224.32 L774.81 224.44 L775.56 224.6 L776.32 224.79 L777.07 225.01 L777.82 225.25 L778.58 225.52 L779.33 225.79 L780.09 226.08 L780.84 226.37 L781.59 226.67 L782.35 226.96 L783.1 227.25 L783.86 227.53 L784.61 227.8 L785.36 228.06 L786.12 228.3 L786.87 228.52 L787.63 228.73 L788.38 228.93 L789.13 229.1 L789.89 229.26 L790.64 229.41 L791.4 229.54 L792.15 229.66 L792.9 229.76 L793.66 229.86 L794.41 229.94 L795.17 230.01 L795.92 230.08 L796.67 230.14 L797.43 230.19 L798.18 230.24 L798.94 230.28 L799.69 230.32 L800.44 230.35 L801.2 230.38 L801.95 230.41 L802.71 230.44 L803.46 230.46 L804.21 230.49 L804.97 230.51 L805.72 230.53 L806.48 230.55 L807.23 230.57 L807.98 230.59 L808.74 230.6 L809.49 230.62 L810.25 231.07 L811 232.12 L811 232.12 L810.25 233.18 L809.49 233.63 L808.74 233.65 L807.98 233.66 L807.23 233.68 L806.48 233.7 L805.72 233.72 L804.97 233.74 L804.21 233.76 L803.46 233.79 L802.71 233.81 L801.95 233.84 L801.2 233.87 L800.44 233.9 L799.69 233.93 L798.94 233.97 L798.18 234.01 L797.43 234.06 L796.67 234.11 L795.92 234.17 L795.17 234.24 L794.41 234.31 L793.66 234.39 L792.9 234.49 L792.15 234.59 L791.4 234.71 L790.64 234.84 L789.89 234.99 L789.13 235.15 L788.38 235.32 L787.63 235.52 L786.87 235.73 L786.12 235.95 L785.36 236.19 L784.61 236.45 L783.86 236.72 L783.1 237 L782.35 237.29 L781.59 237.58 L780.84 237.88 L780.09 238.17 L779.33 238.46 L778.58 238.73 L777.82 239 L777.07 239.24 L776.32 239.46 L775.56 239.65 L774.81 239.81 L774.05 239.93 L773.3 240.02 L772.55 240.07 L771.79 240.08 L771.04 239.97 L770.28 239.73 L769.53 239.38 L768.78 238.93 L768.02 238.42 L767.27 237.87 L766.51 237.32 L765.76 236.79 L765.01 236.32 L764.25 235.92 L763.5 235.6 L762.74 235.38 L761.99 235.27 L761.24 235.27 L760.48 235.36 L759.73 235.55 L758.97 235.82 L758.22 236.16 L757.46 236.53 L756.71 236.91 L755.96 237.28 L755.2 237.6 L754.45 237.84 L753.69 237.99 L752.94 238.04 L752.19 238.02 L751.43 237.97 L750.68 237.89 L749.92 237.79 L749.17 237.66 L748.42 237.51 L747.66 237.35 L746.91 237.16 L746.15 236.97 L745.4 236.77 L744.65 236.56 L743.89 236.35 L743.14 236.15 L742.38 235.94 L741.63 235.75 L740.88 235.56 L740.12 235.38 L739.37 235.21 L738.61 235.06 L737.86 234.91 L737.11 234.78 L736.35 234.66 L735.6 234.55 L734.84 234.46 L734.09 234.37 L733.34 234.29 L732.58 234.22 L731.83 234.16 L731.07 234.1 L730.32 234.05 L729.57 234.01 L728.81 233.97 L728.06 233.93 L727.3 233.9 L726.55 233.87 L725.8 233.84 L725.04 233.82 L724.29 233.79 L723.53 233.77 L722.78 233.75 L722.03 233.73 L721.27 233.71 L720.52 233.69 L719.76 233.68 L719.01 233.66 L718.26 233.65 L717.5 233.63 L716.75 233.62 L715.99 233.61 L715.24 233.59 L714.49 233.58 L713.73 233.57 L712.98 233.56 L712.22 233.55 L711.47 233.54 L710.72 233.53 L709.96 233.52 L709.21 233.52 L708.45 233.11 L707.7 232.12Z" fill="url(#g5)"/>
<circle cx="696.8" cy="232.12" r="1.4" fill="url(#g5)"/>
<circle cx="699.4" cy="232.12" r="1.4" fill="url(#g5)"/>
<circle cx="704.8" cy="232.12" r="1.4" fill="url(#g5)"/>
<circle cx="816" cy="232.12" r="1.4" fill="url(#g5)"/>
<circle cx="826" cy="232.12" r="1.4" fill="url(#g5)"/>
<text x="611.3" y="235.03" font-size="8.5" text-anchor="end" fill="#555" stroke="#555" stroke-width="0.16">86</text>
<path d="M712 249.67 L712.75 248.59 L713.5 248.13 L714.25 248.12 L715 248.11 L715.75 248.09 L716.5 248.08 L717.25 248.07 L718 248.05 L718.75 248.04 L719.5 248.03 L720.25 248.01 L721 248 L721.75 247.98 L722.5 247.96 L723.25 247.95 L724 247.93 L724.75 247.91 L725.5 247.9 L726.25 247.88 L727 247.86 L727.75 247.84 L728.5 247.82 L729.25 247.8 L730 247.78 L730.75 247.76 L731.5 247.74 L732.25 247.72 L733 247.7 L733.75 247.68 L734.5 247.65 L735.25 247.63 L736 247.61 L736.75 247.59 L737.5 247.57 L738.25 247.54 L739 247.52 L739.75 247.5 L740.5 247.48 L741.25 247.45 L742 247.43 L742.75 247.41 L743.5 247.38 L744.25 247.36 L745 247.34 L745.75 247.32 L746.5 247.3 L747.25 247.27 L748 247.25 L748.75 247.23 L749.5 247.21 L750.25 247.19 L751 247.17 L751.75 247.15 L752.5 247.13 L753.25 247.11 L754 247.09 L754.75 247.07 L755.5 247.05 L756.25 247.02 L757 246.99 L757.75 246.95 L758.5 246.9 L759.25 246.83 L760 246.73 L760.75 246.61 L761.5 246.44 L762.25 246.23 L763 245.96 L763.75 245.64 L764.5 245.27 L765.25 244.84 L766 244.38 L766.75 243.91 L767.5 243.44 L768.25 243.02 L769 242.66 L769.75 242.4 L770.5 242.25 L771.25 242.22 L772 242.26 L772.75 242.35 L773.5 242.47 L774.25 242.64 L775 242.85 L775.75 243.08 L776.5 243.35 L777.25 243.63 L778 243.93 L778.75 244.24 L779.5 244.56 L780.25 244.87 L781 245.18 L781.75 245.48 L782.5 245.77 L783.25 246.04 L784 246.29 L784.75 246.53 L785.5 246.75 L786.25 246.95 L787 247.12 L787.75 247.28 L788.5 247.43 L789.25 247.55 L790 247.66 L790.75 247.76 L791.5 247.85 L792.25 247.92 L793 247.98 L793.75 248.04 L794.5 248.09 L795.25 248.13 L796 248.16 L796.75 248.19 L797.5 248.22 L798.25 248.24 L799 248.26 L799.75 248.28 L800.5 248.29 L801.25 248.7 L802 249.67 L802 249.67 L801.25 250.64 L800.5 251.05 L799.75 251.06 L799 251.08 L798.25 251.1 L797.5 251.12 L796.75 251.15 L796 251.18 L795.25 251.21 L794.5 251.25 L793.75 251.3 L793 251.36 L792.25 251.42 L791.5 251.49 L790.75 251.58 L790 251.68 L789.25 251.79 L788.5 251.91 L787.75 252.06 L787 252.22 L786.25 252.39 L785.5 252.59 L784.75 252.81 L784 253.05 L783.25 253.3 L782.5 253.57 L781.75 253.86 L781 254.16 L780.25 254.47 L779.5 254.78 L778.75 255.1 L778 255.41 L777.25 255.71 L776.5 255.99 L775.75 256.26 L775 256.49 L774.25 256.7 L773.5 256.87 L772.75 256.99 L772 257.08 L771.25 257.12 L770.5 257.09 L769.75 256.94 L769 256.68 L768.25 256.32 L767.5 255.9 L766.75 255.43 L766 254.96 L765.25 254.5 L764.5 254.07 L763.75 253.7 L763 253.38 L762.25 253.11 L761.5 252.9 L760.75 252.73 L760 252.61 L759.25 252.51 L758.5 252.44 L757.75 252.39 L757 252.35 L756.25 252.32 L755.5 252.29 L754.75 252.27 L754 252.25 L753.25 252.23 L752.5 252.21 L751.75 252.19 L751 252.17 L750.25 252.15 L749.5 252.13 L748.75 252.11 L748 252.09 L747.25 252.07 L746.5 252.04 L745.75 252.02 L745 252 L744.25 251.98 L743.5 251.96 L742.75 251.93 L742 251.91 L741.25 251.89 L740.5 251.86 L739.75 251.84 L739 251.82 L738.25 251.8 L737.5 251.77 L736.75 251.75 L736 251.73 L735.25 251.71 L734.5 251.69 L733.75 251.66 L733 251.64 L732.25 251.62 L731.5 251.6 L730.75 251.58 L730 251.56 L729.25 251.54 L728.5 251.52 L727.75 251.5 L727 251.48 L726.25 251.46 L725.5 251.44 L724.75 251.43 L724 251.41 L723.25 251.39 L722.5 251.38 L721.75 251.36 L721 251.34 L720.25 251.33 L719.5 251.31 L718.75 251.3 L718 251.29 L717.25 251.27 L716.5 251.26 L715.75 251.25 L715 251.23 L714.25 251.22 L713.5 251.21 L712.75 250.75 L712 249.67Z" fill="url(#g6)"/>
<circle cx="704" cy="249.67" r="1.4" fill="url(#g6)"/>
<circle cx="707.7" cy="249.67" r="1.4" fill="url(#g6)"/>
<circle cx="805.8" cy="249.67" r="1.4" fill="url(#g6)"/>
<text x="611.3" y="252.57" font-size="8.5" text-anchor="end" fill="#555" stroke="#555" stroke-width="0.16">64</text>
<path d="M710.6 267.22 L711.35 265.99 L712.11 265.47 L712.86 265.44 L713.62 265.42 L714.37 265.39 L715.13 265.36 L715.88 265.33 L716.64 265.3 L717.39 265.27 L718.15 265.24 L718.9 265.21 L719.66 265.17 L720.41 265.14 L721.17 265.1 L721.92 265.06 L722.68 265.03 L723.43 264.99 L724.19 264.95 L724.94 264.91 L725.69 264.87 L726.45 264.83 L727.2 264.79 L727.96 264.75 L728.71 264.71 L729.47 264.66 L730.22 264.62 L730.98 264.58 L731.73 264.53 L732.49 264.48 L733.24 264.44 L734 264.38 L734.75 264.33 L735.51 264.27 L736.26 264.2 L737.02 264.13 L737.77 264.05 L738.53 263.96 L739.28 263.87 L740.04 263.76 L740.79 263.65 L741.54 263.54 L742.3 263.42 L743.05 263.31 L743.81 263.2 L744.56 263.1 L745.32 263.02 L746.07 262.96 L746.83 262.91 L747.58 262.89 L748.34 262.89 L749.09 262.92 L749.85 262.96 L750.6 263.01 L751.36 263.06 L752.11 263.09 L752.87 263.1 L753.62 263.08 L754.38 263.03 L755.13 262.95 L755.88 262.84 L756.64 262.72 L757.39 262.57 L758.15 262.41 L758.9 262.23 L759.66 262.03 L760.41 261.82 L761.17 261.6 L761.92 261.37 L762.68 261.14 L763.43 260.92 L764.19 260.71 L764.94 260.52 L765.7 260.36 L766.45 260.24 L767.21 260.16 L767.96 260.14 L768.72 260.16 L769.47 260.24 L770.22 260.35 L770.98 260.48 L771.73 260.63 L772.49 260.81 L773.24 261 L774 261.21 L774.75 261.43 L775.51 261.66 L776.26 261.9 L777.02 262.15 L777.77 262.39 L778.53 262.63 L779.28 262.87 L780.04 263.1 L780.79 263.32 L781.55 263.52 L782.3 263.72 L783.06 263.9 L783.81 264.07 L784.56 264.22 L785.32 264.36 L786.07 264.49 L786.83 264.6 L787.58 264.7 L788.34 264.79 L789.09 264.88 L789.85 264.95 L790.6 265.01 L791.36 265.07 L792.11 265.12 L792.87 265.17 L793.62 265.21 L794.38 265.25 L795.13 265.29 L795.89 265.32 L796.64 265.35 L797.4 265.38 L798.15 265.4 L798.91 265.43 L799.66 265.45 L800.41 265.48 L801.17 265.5 L801.92 265.52 L802.68 265.54 L803.43 265.56 L804.19 265.58 L804.94 265.6 L805.7 265.62 L806.45 265.63 L807.21 265.65 L807.96 265.66 L808.72 265.68 L809.47 265.69 L810.23 265.71 L810.98 265.72 L811.74 265.73 L812.49 265.74 L813.25 266.18 L814 267.22 L814 267.22 L813.25 268.25 L812.49 268.69 L811.74 268.7 L810.98 268.71 L810.23 268.72 L809.47 268.74 L808.72 268.75 L807.96 268.77 L807.21 268.78 L806.45 268.8 L805.7 268.81 L804.94 268.83 L804.19 268.85 L803.43 268.87 L802.68 268.89 L801.92 268.91 L801.17 268.93 L800.41 268.95 L799.66 268.98 L798.91 269 L798.15 269.03 L797.4 269.05 L796.64 269.08 L795.89 269.11 L795.13 269.14 L794.38 269.18 L793.62 269.22 L792.87 269.26 L792.11 269.31 L791.36 269.36 L790.6 269.42 L789.85 269.48 L789.09 269.55 L788.34 269.64 L787.58 269.73 L786.83 269.83 L786.07 269.94 L785.32 270.07 L784.56 270.21 L783.81 270.36 L783.06 270.53 L782.3 270.71 L781.55 270.91 L780.79 271.11 L780.04 271.33 L779.28 271.56 L778.53 271.8 L777.77 272.04 L777.02 272.28 L776.26 272.53 L775.51 272.77 L774.75 273 L774 273.22 L773.24 273.43 L772.49 273.62 L771.73 273.8 L770.98 273.95 L770.22 274.08 L769.47 274.19 L768.72 274.27 L767.96 274.29 L767.21 274.27 L766.45 274.19 L765.7 274.07 L764.94 273.91 L764.19 273.72 L763.43 273.51 L762.68 273.29 L761.92 273.06 L761.17 272.83 L760.41 272.61 L759.66 272.4 L758.9 272.2 L758.15 272.02 L757.39 271.86 L756.64 271.71 L755.88 271.59 L755.13 271.48 L754.38 271.4 L753.62 271.35 L752.87 271.33 L752.11 271.34 L751.36 271.37 L750.6 271.42 L749.85 271.47 L749.09 271.51 L748.34 271.54 L747.58 271.54 L746.83 271.52 L746.07 271.47 L745.32 271.41 L744.56 271.33 L743.81 271.23 L743.05 271.12 L742.3 271.01 L741.54 270.89 L740.79 270.78 L740.04 270.67 L739.28 270.56 L738.53 270.47 L737.77 270.38 L737.02 270.3 L736.26 270.23 L735.51 270.16 L734.75 270.1 L734 270.05 L733.24 269.99 L732.49 269.95 L731.73 269.9 L730.98 269.85 L730.22 269.81 L729.47 269.77 L728.71 269.72 L727.96 269.68 L727.2 269.64 L726.45 269.6 L725.69 269.56 L724.94 269.52 L724.19 269.48 L723.43 269.44 L722.68 269.4 L721.92 269.37 L721.17 269.33 L720.41 269.29 L719.66 269.26 L718.9 269.22 L718.15 269.19 L717.39 269.16 L716.64 269.13 L715.88 269.1 L715.13 269.07 L714.37 269.04 L713.62 269.01 L712.86 268.99 L712.11 268.96 L711.35 268.44 L710.6 267.22Z" fill="url(#g7)"/>
<circle cx="691" cy="267.22" r="1.4" fill="url(#g7)"/>
<circle cx="694.3" cy="267.22" r="1.4" fill="url(#g7)"/>
<circle cx="697.6" cy="267.22" r="1.4" fill="url(#g7)"/>
<circle cx="703.4" cy="267.22" r="1.4" fill="url(#g7)"/>
<circle cx="706" cy="267.22" r="1.4" fill="url(#g7)"/>
<circle cx="818.8" cy="267.22" r="1.4" fill="url(#g7)"/>
<circle cx="822" cy="267.22" r="1.4" fill="url(#g7)"/>
<circle cx="831" cy="267.22" r="1.4" fill="url(#g7)"/>
<text x="611.3" y="270.12" font-size="8.5" text-anchor="end" fill="#555" stroke="#555" stroke-width="0.16">88</text>
<path d="M710 284.76 L710.75 283.67 L711.51 283.21 L712.26 283.2 L713.01 283.19 L713.77 283.17 L714.52 283.16 L715.27 283.14 L716.03 283.12 L716.78 283.11 L717.53 283.09 L718.29 283.07 L719.04 283.05 L719.79 283.03 L720.55 283.01 L721.3 282.99 L722.05 282.97 L722.81 282.95 L723.56 282.93 L724.32 282.91 L725.07 282.88 L725.82 282.86 L726.58 282.84 L727.33 282.81 L728.08 282.79 L728.84 282.76 L729.59 282.74 L730.34 282.71 L731.1 282.69 L731.85 282.66 L732.6 282.63 L733.36 282.61 L734.11 282.58 L734.86 282.55 L735.62 282.52 L736.37 282.49 L737.12 282.46 L737.88 282.43 L738.63 282.4 L739.38 282.36 L740.14 282.32 L740.89 282.28 L741.64 282.23 L742.4 282.17 L743.15 282.11 L743.9 282.04 L744.66 281.95 L745.41 281.85 L746.16 281.74 L746.92 281.6 L747.67 281.45 L748.42 281.28 L749.18 281.09 L749.93 280.87 L750.68 280.64 L751.44 280.39 L752.19 280.12 L752.95 279.84 L753.7 279.55 L754.45 279.26 L755.21 278.98 L755.96 278.71 L756.71 278.46 L757.47 278.23 L758.22 278.04 L758.97 277.89 L759.73 277.78 L760.48 277.72 L761.23 277.71 L761.99 277.75 L762.74 277.84 L763.49 277.98 L764.25 278.16 L765 278.37 L765.75 278.61 L766.51 278.87 L767.26 279.15 L768.01 279.44 L768.77 279.73 L769.52 280.01 L770.27 280.29 L771.03 280.54 L771.78 280.79 L772.53 281.01 L773.29 281.21 L774.04 281.39 L774.79 281.55 L775.55 281.69 L776.3 281.81 L777.05 281.91 L777.81 282 L778.56 282.08 L779.32 282.15 L780.07 282.21 L780.82 282.26 L781.58 282.31 L782.33 282.35 L783.08 282.38 L783.84 282.42 L784.59 282.45 L785.34 282.48 L786.1 282.51 L786.85 282.54 L787.6 282.57 L788.36 282.6 L789.11 282.62 L789.86 282.65 L790.62 282.68 L791.37 282.7 L792.12 282.73 L792.88 282.75 L793.63 282.78 L794.38 282.8 L795.14 282.83 L795.89 282.85 L796.64 282.87 L797.4 282.9 L798.15 282.92 L798.9 282.94 L799.66 282.96 L800.41 282.98 L801.16 283.01 L801.92 283.03 L802.67 283.04 L803.42 283.06 L804.18 283.08 L804.93 283.1 L805.68 283.12 L806.44 283.13 L807.19 283.15 L807.95 283.17 L808.7 283.18 L809.45 283.2 L810.21 283.21 L810.96 283.22 L811.71 283.24 L812.47 283.25 L813.22 283.26 L813.97 283.27 L814.73 283.28 L815.48 283.29 L816.23 283.3 L816.99 283.31 L817.74 283.32 L818.49 283.33 L819.25 283.75 L820 284.76 L820 284.76 L819.25 285.77 L818.49 286.19 L817.74 286.2 L816.99 286.21 L816.23 286.22 L815.48 286.23 L814.73 286.24 L813.97 286.25 L813.22 286.26 L812.47 286.27 L811.71 286.28 L810.96 286.3 L810.21 286.31 L809.45 286.32 L808.7 286.34 L807.95 286.35 L807.19 286.37 L806.44 286.39 L805.68 286.4 L804.93 286.42 L804.18 286.44 L803.42 286.46 L802.67 286.48 L801.92 286.49 L801.16 286.51 L800.41 286.54 L799.66 286.56 L798.9 286.58 L798.15 286.6 L797.4 286.62 L796.64 286.65 L795.89 286.67 L795.14 286.69 L794.38 286.72 L793.63 286.74 L792.88 286.77 L792.12 286.79 L791.37 286.82 L790.62 286.84 L789.86 286.87 L789.11 286.9 L788.36 286.92 L787.6 286.95 L786.85 286.98 L786.1 287.01 L785.34 287.04 L784.59 287.07 L783.84 287.1 L783.08 287.14 L782.33 287.17 L781.58 287.21 L780.82 287.26 L780.07 287.31 L779.32 287.37 L778.56 287.44 L777.81 287.52 L777.05 287.61 L776.3 287.71 L775.55 287.83 L774.79 287.97 L774.04 288.13 L773.29 288.31 L772.53 288.51 L771.78 288.73 L771.03 288.98 L770.27 289.23 L769.52 289.51 L768.77 289.79 L768.01 290.08 L767.26 290.37 L766.51 290.65 L765.75 290.91 L765 291.15 L764.25 291.36 L763.49 291.54 L762.74 291.68 L761.99 291.77 L761.23 291.81 L760.48 291.8 L759.73 291.74 L758.97 291.63 L758.22 291.48 L757.47 291.29 L756.71 291.06 L755.96 290.81 L755.21 290.54 L754.45 290.26 L753.7 289.97 L752.95 289.68 L752.19 289.4 L751.44 289.13 L750.68 288.88 L749.93 288.65 L749.18 288.43 L748.42 288.24 L747.67 288.07 L746.92 287.92 L746.16 287.78 L745.41 287.67 L744.66 287.57 L743.9 287.48 L743.15 287.41 L742.4 287.35 L741.64 287.29 L740.89 287.24 L740.14 287.2 L739.38 287.16 L738.63 287.12 L737.88 287.09 L737.12 287.06 L736.37 287.03 L735.62 287 L734.86 286.97 L734.11 286.94 L733.36 286.91 L732.6 286.89 L731.85 286.86 L731.1 286.83 L730.34 286.81 L729.59 286.78 L728.84 286.76 L728.08 286.73 L727.33 286.71 L726.58 286.68 L725.82 286.66 L725.07 286.64 L724.32 286.61 L723.56 286.59 L722.81 286.57 L722.05 286.55 L721.3 286.53 L720.55 286.51 L719.79 286.49 L719.04 286.47 L718.29 286.45 L717.53 286.43 L716.78 286.41 L716.03 286.4 L715.27 286.38 L714.52 286.36 L713.77 286.35 L713.01 286.33 L712.26 286.32 L711.51 286.31 L710.75 285.85 L710 284.76Z" fill="url(#g8)"/>
<circle cx="702.5" cy="284.76" r="1.4" fill="url(#g8)"/>
<circle cx="705.7" cy="284.76" r="1.4" fill="url(#g8)"/>
<circle cx="822.5" cy="284.76" r="1.4" fill="url(#g8)"/>
<circle cx="826" cy="284.76" r="1.4" fill="url(#g8)"/>
<circle cx="836.3" cy="284.76" r="1.4" fill="url(#g8)"/>
<circle cx="838.3" cy="284.76" r="1.4" fill="url(#g8)"/>
<circle cx="848.3" cy="284.76" r="1.4" fill="url(#g8)"/>
<circle cx="851.8" cy="284.76" r="1.4" fill="url(#g8)"/>
<text x="611.3" y="287.66" font-size="8.5" text-anchor="end" fill="#555" stroke="#555" stroke-width="0.16">99</text>
<path d="M735.5 302.31 L736.25 301.38 L737 301 L737.76 301 L738.51 300.99 L739.26 300.99 L740.01 300.98 L740.76 300.96 L741.52 300.94 L742.27 300.91 L743.02 300.86 L743.77 300.8 L744.52 300.72 L745.27 300.61 L746.03 300.46 L746.78 300.28 L747.53 300.06 L748.28 299.79 L749.03 299.47 L749.79 299.1 L750.54 298.69 L751.29 298.24 L752.04 297.76 L752.79 297.28 L753.55 296.79 L754.3 296.34 L755.05 295.92 L755.8 295.57 L756.55 295.29 L757.31 295.1 L758.06 295.01 L758.81 295.03 L759.56 295.17 L760.31 295.41 L761.06 295.74 L761.82 296.12 L762.57 296.53 L763.32 296.96 L764.07 297.37 L764.82 297.75 L765.58 298.1 L766.33 298.4 L767.08 298.65 L767.83 298.85 L768.58 299.03 L769.34 299.17 L770.09 299.29 L770.84 299.39 L771.59 299.46 L772.34 299.51 L773.1 299.55 L773.85 299.57 L774.6 299.59 L775.35 299.6 L776.1 299.61 L776.85 299.62 L777.61 299.63 L778.36 299.63 L779.11 299.64 L779.86 299.65 L780.61 299.65 L781.37 299.66 L782.12 299.67 L782.87 299.68 L783.62 299.68 L784.37 299.69 L785.13 299.7 L785.88 299.71 L786.63 299.72 L787.38 299.73 L788.13 299.74 L788.89 299.75 L789.64 299.76 L790.39 299.78 L791.14 299.79 L791.89 299.8 L792.65 299.81 L793.4 299.83 L794.15 299.84 L794.9 299.85 L795.65 299.87 L796.4 299.88 L797.16 299.89 L797.91 299.91 L798.66 299.92 L799.41 299.94 L800.16 299.95 L800.92 299.97 L801.67 299.98 L802.42 300 L803.17 300.01 L803.92 300.03 L804.68 300.04 L805.43 300.06 L806.18 300.08 L806.93 300.09 L807.68 300.11 L808.44 300.12 L809.19 300.14 L809.94 300.15 L810.69 300.17 L811.44 300.19 L812.19 300.2 L812.95 300.22 L813.7 300.23 L814.45 300.25 L815.2 300.27 L815.95 300.28 L816.71 300.3 L817.46 300.31 L818.21 300.33 L818.96 300.34 L819.71 300.36 L820.47 300.37 L821.22 300.39 L821.97 300.4 L822.72 300.42 L823.47 300.43 L824.23 300.45 L824.98 300.46 L825.73 300.47 L826.48 300.49 L827.23 300.5 L827.98 300.52 L828.74 300.53 L829.49 300.54 L830.24 300.55 L830.99 300.57 L831.74 300.58 L832.5 300.59 L833.25 301.1 L834 302.31 L834 302.31 L833.25 303.51 L832.5 304.02 L831.74 304.03 L830.99 304.04 L830.24 304.06 L829.49 304.07 L828.74 304.08 L827.98 304.09 L827.23 304.11 L826.48 304.12 L825.73 304.14 L824.98 304.15 L824.23 304.16 L823.47 304.18 L822.72 304.19 L821.97 304.21 L821.22 304.22 L820.47 304.24 L819.71 304.25 L818.96 304.27 L818.21 304.28 L817.46 304.3 L816.71 304.31 L815.95 304.33 L815.2 304.34 L814.45 304.36 L813.7 304.38 L812.95 304.39 L812.19 304.41 L811.44 304.42 L810.69 304.44 L809.94 304.46 L809.19 304.47 L808.44 304.49 L807.68 304.5 L806.93 304.52 L806.18 304.53 L805.43 304.55 L804.68 304.57 L803.92 304.58 L803.17 304.6 L802.42 304.61 L801.67 304.63 L800.92 304.64 L800.16 304.66 L799.41 304.67 L798.66 304.69 L797.91 304.7 L797.16 304.72 L796.4 304.73 L795.65 304.74 L794.9 304.76 L794.15 304.77 L793.4 304.78 L792.65 304.8 L791.89 304.81 L791.14 304.82 L790.39 304.83 L789.64 304.85 L788.89 304.86 L788.13 304.87 L787.38 304.88 L786.63 304.89 L785.88 304.9 L785.13 304.91 L784.37 304.92 L783.62 304.93 L782.87 304.93 L782.12 304.94 L781.37 304.95 L780.61 304.96 L779.86 304.96 L779.11 304.97 L778.36 304.98 L777.61 304.98 L776.85 304.99 L776.1 305 L775.35 305.01 L774.6 305.02 L773.85 305.04 L773.1 305.06 L772.34 305.1 L771.59 305.15 L770.84 305.22 L770.09 305.32 L769.34 305.44 L768.58 305.58 L767.83 305.76 L767.08 305.96 L766.33 306.21 L765.58 306.51 L764.82 306.86 L764.07 307.24 L763.32 307.65 L762.57 308.08 L761.82 308.49 L761.06 308.87 L760.31 309.2 L759.56 309.44 L758.81 309.58 L758.06 309.6 L757.31 309.51 L756.55 309.32 L755.8 309.04 L755.05 308.69 L754.3 308.27 L753.55 307.82 L752.79 307.33 L752.04 306.85 L751.29 306.37 L750.54 305.92 L749.79 305.51 L749.03 305.14 L748.28 304.82 L747.53 304.55 L746.78 304.33 L746.03 304.15 L745.27 304 L744.52 303.89 L743.77 303.81 L743.02 303.75 L742.27 303.7 L741.52 303.67 L740.76 303.65 L740.01 303.63 L739.26 303.62 L738.51 303.62 L737.76 303.61 L737 303.61 L736.25 303.23 L735.5 302.31Z" fill="url(#g9)"/>
<circle cx="839" cy="302.31" r="1.4" fill="url(#g9)"/>
<circle cx="842.6" cy="302.31" r="1.4" fill="url(#g9)"/>
<circle cx="847" cy="302.31" r="1.4" fill="url(#g9)"/>
<circle cx="851" cy="302.31" r="1.4" fill="url(#g9)"/>
<text x="611.3" y="305.21" font-size="8.5" text-anchor="end" fill="#555" stroke="#555" stroke-width="0.16">114</text>
<path d="M731.5 319.85 L732.26 318.73 L733.01 318.23 L733.77 318.18 L734.52 318.13 L735.28 318.07 L736.03 318 L736.79 317.92 L737.54 317.83 L738.3 317.73 L739.05 317.61 L739.81 317.48 L740.57 317.33 L741.32 317.17 L742.08 317 L742.83 316.81 L743.59 316.6 L744.34 316.39 L745.1 316.16 L745.85 315.93 L746.61 315.69 L747.36 315.45 L748.12 315.22 L748.88 314.99 L749.63 314.77 L750.39 314.57 L751.14 314.4 L751.9 314.24 L752.65 314.12 L753.41 314.03 L754.16 313.97 L754.92 313.94 L755.67 313.98 L756.43 314.11 L757.18 314.34 L757.94 314.64 L758.7 314.97 L759.45 315.31 L760.21 315.63 L760.96 315.88 L761.72 316.06 L762.47 316.13 L763.23 316.07 L763.98 315.89 L764.74 315.59 L765.49 315.18 L766.25 314.69 L767.01 314.16 L767.76 313.62 L768.52 313.13 L769.27 312.73 L770.03 312.46 L770.78 312.33 L771.54 312.35 L772.29 312.41 L773.05 312.5 L773.8 312.64 L774.56 312.82 L775.32 313.02 L776.07 313.26 L776.83 313.52 L777.58 313.8 L778.34 314.1 L779.09 314.41 L779.85 314.73 L780.6 315.04 L781.36 315.35 L782.11 315.66 L782.87 315.95 L783.62 316.23 L784.38 316.5 L785.14 316.74 L785.89 316.97 L786.65 317.18 L787.4 317.37 L788.16 317.54 L788.91 317.69 L789.67 317.83 L790.42 317.95 L791.18 318.05 L791.93 318.14 L792.69 318.21 L793.45 318.27 L794.2 318.33 L794.96 318.37 L795.71 318.41 L796.47 318.44 L797.22 318.46 L797.98 318.48 L798.73 318.5 L799.49 318.51 L800.24 318.91 L801 319.85 L801 319.85 L800.24 320.79 L799.49 321.19 L798.73 321.2 L797.98 321.22 L797.22 321.24 L796.47 321.26 L795.71 321.29 L794.96 321.33 L794.2 321.37 L793.45 321.43 L792.69 321.49 L791.93 321.56 L791.18 321.65 L790.42 321.75 L789.67 321.87 L788.91 322.01 L788.16 322.16 L787.4 322.33 L786.65 322.52 L785.89 322.73 L785.14 322.96 L784.38 323.2 L783.62 323.47 L782.87 323.75 L782.11 324.04 L781.36 324.35 L780.6 324.66 L779.85 324.97 L779.09 325.29 L778.34 325.6 L777.58 325.9 L776.83 326.18 L776.07 326.44 L775.32 326.68 L774.56 326.88 L773.8 327.06 L773.05 327.2 L772.29 327.29 L771.54 327.35 L770.78 327.37 L770.03 327.24 L769.27 326.97 L768.52 326.57 L767.76 326.08 L767.01 325.54 L766.25 325.01 L765.49 324.52 L764.74 324.11 L763.98 323.81 L763.23 323.63 L762.47 323.57 L761.72 323.64 L760.96 323.82 L760.21 324.07 L759.45 324.39 L758.7 324.73 L757.94 325.06 L757.18 325.36 L756.43 325.59 L755.67 325.72 L754.92 325.76 L754.16 325.73 L753.41 325.67 L752.65 325.58 L751.9 325.46 L751.14 325.3 L750.39 325.13 L749.63 324.93 L748.88 324.71 L748.12 324.48 L747.36 324.25 L746.61 324.01 L745.85 323.77 L745.1 323.54 L744.34 323.31 L743.59 323.1 L742.83 322.89 L742.08 322.7 L741.32 322.53 L740.57 322.37 L739.81 322.22 L739.05 322.09 L738.3 321.97 L737.54 321.87 L736.79 321.78 L736.03 321.7 L735.28 321.63 L734.52 321.57 L733.77 321.52 L733.01 321.47 L732.26 320.97 L731.5 319.85Z" fill="url(#g10)"/>
<circle cx="713.4" cy="319.85" r="1.4" fill="url(#g10)"/>
<circle cx="718.6" cy="319.85" r="1.4" fill="url(#g10)"/>
<circle cx="722" cy="319.85" r="1.4" fill="url(#g10)"/>
<circle cx="726.3" cy="319.85" r="1.4" fill="url(#g10)"/>
<text x="611.3" y="322.75" font-size="8.5" text-anchor="end" fill="#555" stroke="#555" stroke-width="0.16">67</text>
<path d="M727.2 337.39 L727.95 336.48 L728.7 336.09 L729.45 336.09 L730.2 336.09 L730.95 336.09 L731.7 336.09 L732.45 336.09 L733.2 336.09 L733.95 336.09 L734.7 336.09 L735.45 336.09 L736.2 336.09 L736.96 336.09 L737.71 336.09 L738.46 336.09 L739.21 336.09 L739.96 336.08 L740.71 336.07 L741.46 336.06 L742.21 336.05 L742.96 336.03 L743.71 336 L744.46 335.97 L745.21 335.92 L745.96 335.85 L746.71 335.76 L747.46 335.65 L748.21 335.52 L748.96 335.35 L749.71 335.15 L750.46 334.91 L751.21 334.63 L751.96 334.31 L752.71 333.96 L753.46 333.58 L754.21 333.17 L754.96 332.75 L755.71 332.33 L756.47 331.92 L757.22 331.54 L757.97 331.2 L758.72 330.9 L759.47 330.68 L760.22 330.53 L760.97 330.46 L761.72 330.49 L762.47 330.63 L763.22 330.88 L763.97 331.21 L764.72 331.61 L765.47 332.05 L766.22 332.5 L766.97 332.95 L767.72 333.37 L768.47 333.74 L769.22 334.07 L769.97 334.35 L770.72 334.57 L771.47 334.74 L772.22 334.87 L772.97 334.96 L773.72 335.02 L774.47 335.05 L775.22 335.06 L775.98 335.06 L776.73 335.06 L777.48 335.05 L778.23 335.03 L778.98 335.02 L779.73 335.01 L780.48 335 L781.23 335 L781.98 334.99 L782.73 334.99 L783.48 335 L784.23 335 L784.98 335 L785.73 335 L786.48 335.01 L787.23 335.01 L787.98 335.02 L788.73 335.02 L789.48 335.03 L790.23 335.04 L790.98 335.04 L791.73 335.05 L792.48 335.06 L793.23 335.07 L793.98 335.08 L794.73 335.09 L795.49 335.1 L796.24 335.11 L796.99 335.12 L797.74 335.14 L798.49 335.15 L799.24 335.16 L799.99 335.18 L800.74 335.19 L801.49 335.2 L802.24 335.22 L802.99 335.23 L803.74 335.25 L804.49 335.26 L805.24 335.28 L805.99 335.3 L806.74 335.31 L807.49 335.33 L808.24 335.34 L808.99 335.36 L809.74 335.38 L810.49 335.39 L811.24 335.41 L811.99 335.43 L812.74 335.44 L813.49 335.46 L814.24 335.48 L815 335.49 L815.75 335.51 L816.5 335.53 L817.25 335.54 L818 335.56 L818.75 335.58 L819.5 335.59 L820.25 335.61 L821 335.62 L821.75 335.64 L822.5 335.65 L823.25 336.17 L824 337.39 L824 337.39 L823.25 338.62 L822.5 339.14 L821.75 339.15 L821 339.17 L820.25 339.18 L819.5 339.2 L818.75 339.21 L818 339.23 L817.25 339.25 L816.5 339.26 L815.75 339.28 L815 339.3 L814.24 339.31 L813.49 339.33 L812.74 339.35 L811.99 339.36 L811.24 339.38 L810.49 339.4 L809.74 339.41 L808.99 339.43 L808.24 339.45 L807.49 339.46 L806.74 339.48 L805.99 339.49 L805.24 339.51 L804.49 339.53 L803.74 339.54 L802.99 339.56 L802.24 339.57 L801.49 339.59 L800.74 339.6 L799.99 339.61 L799.24 339.63 L798.49 339.64 L797.74 339.65 L796.99 339.67 L796.24 339.68 L795.49 339.69 L794.73 339.7 L793.98 339.71 L793.23 339.72 L792.48 339.73 L791.73 339.74 L790.98 339.75 L790.23 339.75 L789.48 339.76 L788.73 339.77 L787.98 339.77 L787.23 339.78 L786.48 339.78 L785.73 339.79 L784.98 339.79 L784.23 339.79 L783.48 339.79 L782.73 339.8 L781.98 339.8 L781.23 339.79 L780.48 339.79 L779.73 339.78 L778.98 339.77 L778.23 339.76 L777.48 339.74 L776.73 339.73 L775.98 339.73 L775.22 339.73 L774.47 339.74 L773.72 339.77 L772.97 339.83 L772.22 339.92 L771.47 340.05 L770.72 340.22 L769.97 340.44 L769.22 340.72 L768.47 341.05 L767.72 341.42 L766.97 341.84 L766.22 342.29 L765.47 342.74 L764.72 343.18 L763.97 343.58 L763.22 343.91 L762.47 344.16 L761.72 344.3 L760.97 344.33 L760.22 344.26 L759.47 344.11 L758.72 343.89 L757.97 343.59 L757.22 343.25 L756.47 342.87 L755.71 342.46 L754.96 342.04 L754.21 341.62 L753.46 341.21 L752.71 340.83 L751.96 340.48 L751.21 340.16 L750.46 339.88 L749.71 339.64 L748.96 339.44 L748.21 339.27 L747.46 339.14 L746.71 339.03 L745.96 338.94 L745.21 338.87 L744.46 338.82 L743.71 338.79 L742.96 338.76 L742.21 338.74 L741.46 338.73 L740.71 338.72 L739.96 338.71 L739.21 338.7 L738.46 338.7 L737.71 338.7 L736.96 338.7 L736.2 338.7 L735.45 338.7 L734.7 338.7 L733.95 338.7 L733.2 338.7 L732.45 338.7 L731.7 338.7 L730.95 338.7 L730.2 338.7 L729.45 338.7 L728.7 338.7 L727.95 338.31 L727.2 337.39Z" fill="url(#g11)"/>
<circle cx="724.3" cy="337.39" r="1.4" fill="url(#g11)"/>
<text x="611.3" y="340.29" font-size="8.5" text-anchor="end" fill="#555" stroke="#555" stroke-width="0.16">45</text>
<path d="M733 354.94 L733.75 353.98 L734.51 353.56 L735.26 353.54 L736.01 353.51 L736.76 353.47 L737.52 353.43 L738.27 353.38 L739.02 353.31 L739.78 353.24 L740.53 353.15 L741.28 353.04 L742.04 352.93 L742.79 352.79 L743.54 352.64 L744.29 352.48 L745.05 352.3 L745.8 352.1 L746.55 351.89 L747.31 351.67 L748.06 351.44 L748.81 351.21 L749.56 350.97 L750.32 350.74 L751.07 350.51 L751.82 350.29 L752.58 350.09 L753.33 349.9 L754.08 349.73 L754.84 349.57 L755.59 349.44 L756.34 349.32 L757.09 349.22 L757.85 349.14 L758.6 349.07 L759.35 349.02 L760.11 348.98 L760.86 348.93 L761.61 348.87 L762.36 348.8 L763.12 348.7 L763.87 348.58 L764.62 348.45 L765.38 348.31 L766.13 348.17 L766.88 348.05 L767.64 347.96 L768.39 347.92 L769.14 347.93 L769.89 348.02 L770.65 348.15 L771.4 348.3 L772.15 348.46 L772.91 348.64 L773.66 348.84 L774.41 349.05 L775.16 349.27 L775.92 349.51 L776.67 349.76 L777.42 350.02 L778.18 350.28 L778.93 350.54 L779.68 350.8 L780.44 351.06 L781.19 351.3 L781.94 351.54 L782.69 351.77 L783.45 351.98 L784.2 352.18 L784.95 352.37 L785.71 352.54 L786.46 352.69 L787.21 352.83 L787.96 352.95 L788.72 353.06 L789.47 353.15 L790.22 353.24 L790.98 353.31 L791.73 353.37 L792.48 353.42 L793.24 353.46 L793.99 353.5 L794.74 353.52 L795.49 353.55 L796.25 353.97 L797 354.94 L797 354.94 L796.25 355.91 L795.49 356.33 L794.74 356.36 L793.99 356.38 L793.24 356.42 L792.48 356.46 L791.73 356.51 L790.98 356.57 L790.22 356.64 L789.47 356.73 L788.72 356.82 L787.96 356.93 L787.21 357.05 L786.46 357.19 L785.71 357.34 L784.95 357.51 L784.2 357.7 L783.45 357.9 L782.69 358.11 L781.94 358.34 L781.19 358.58 L780.44 358.82 L779.68 359.08 L778.93 359.34 L778.18 359.6 L777.42 359.86 L776.67 360.12 L775.92 360.37 L775.16 360.61 L774.41 360.83 L773.66 361.04 L772.91 361.24 L772.15 361.42 L771.4 361.58 L770.65 361.73 L769.89 361.86 L769.14 361.95 L768.39 361.96 L767.64 361.92 L766.88 361.83 L766.13 361.71 L765.38 361.57 L764.62 361.43 L763.87 361.3 L763.12 361.18 L762.36 361.08 L761.61 361.01 L760.86 360.95 L760.11 360.9 L759.35 360.86 L758.6 360.81 L757.85 360.74 L757.09 360.66 L756.34 360.56 L755.59 360.44 L754.84 360.31 L754.08 360.15 L753.33 359.98 L752.58 359.79 L751.82 359.59 L751.07 359.37 L750.32 359.14 L749.56 358.91 L748.81 358.67 L748.06 358.44 L747.31 358.21 L746.55 357.99 L745.8 357.78 L745.05 357.58 L744.29 357.4 L743.54 357.24 L742.79 357.09 L742.04 356.95 L741.28 356.84 L740.53 356.73 L739.78 356.64 L739.02 356.57 L738.27 356.5 L737.52 356.45 L736.76 356.41 L736.01 356.37 L735.26 356.34 L734.51 356.32 L733.75 355.9 L733 354.94Z" fill="url(#g12)"/>
<circle cx="804.4" cy="354.94" r="1.4" fill="url(#g12)"/>
<text x="611.3" y="357.84" font-size="8.5" text-anchor="end" fill="#555" stroke="#555" stroke-width="0.16">51</text>
<path d="M733.5 372.49 L734.26 371.49 L735.01 371.06 L735.77 371.03 L736.52 370.98 L737.28 370.93 L738.04 370.86 L738.79 370.78 L739.55 370.68 L740.31 370.57 L741.06 370.44 L741.82 370.29 L742.58 370.12 L743.33 369.93 L744.09 369.72 L744.84 369.48 L745.6 369.23 L746.36 368.96 L747.11 368.67 L747.87 368.37 L748.62 368.06 L749.38 367.75 L750.14 367.44 L750.89 367.14 L751.65 366.85 L752.41 366.59 L753.16 366.34 L753.92 366.13 L754.67 365.95 L755.43 365.81 L756.19 365.7 L756.94 365.63 L757.7 365.61 L758.46 365.63 L759.21 365.69 L759.97 365.79 L760.73 365.91 L761.48 366.05 L762.24 366.19 L762.99 366.32 L763.75 366.44 L764.51 366.53 L765.26 366.59 L766.02 366.62 L766.77 366.61 L767.53 366.58 L768.29 366.52 L769.04 366.44 L769.8 366.36 L770.56 366.27 L771.31 366.2 L772.07 366.16 L772.83 366.14 L773.58 366.17 L774.34 366.24 L775.09 366.35 L775.85 366.5 L776.61 366.69 L777.36 366.92 L778.12 367.18 L778.88 367.46 L779.63 367.76 L780.39 368.07 L781.14 368.38 L781.9 368.69 L782.66 368.99 L783.41 369.28 L784.17 369.55 L784.92 369.79 L785.68 370.02 L786.44 370.21 L787.19 370.39 L787.95 370.54 L788.71 370.67 L789.46 370.78 L790.22 370.86 L790.98 370.94 L791.73 370.99 L792.49 371.04 L793.24 371.49 L794 372.49 L794 372.49 L793.24 373.48 L792.49 373.93 L791.73 373.98 L790.98 374.03 L790.22 374.11 L789.46 374.19 L788.71 374.3 L787.95 374.43 L787.19 374.58 L786.44 374.76 L785.68 374.95 L784.92 375.18 L784.17 375.42 L783.41 375.69 L782.66 375.98 L781.9 376.28 L781.14 376.59 L780.39 376.9 L779.63 377.21 L778.88 377.51 L778.12 377.79 L777.36 378.05 L776.61 378.28 L775.85 378.47 L775.09 378.62 L774.34 378.73 L773.58 378.8 L772.83 378.83 L772.07 378.81 L771.31 378.77 L770.56 378.7 L769.8 378.61 L769.04 378.53 L768.29 378.45 L767.53 378.39 L766.77 378.36 L766.02 378.35 L765.26 378.38 L764.51 378.44 L763.75 378.53 L762.99 378.65 L762.24 378.78 L761.48 378.92 L760.73 379.06 L759.97 379.18 L759.21 379.28 L758.46 379.34 L757.7 379.36 L756.94 379.34 L756.19 379.27 L755.43 379.16 L754.67 379.02 L753.92 378.84 L753.16 378.63 L752.41 378.38 L751.65 378.12 L750.89 377.83 L750.14 377.53 L749.38 377.22 L748.62 376.91 L747.87 376.6 L747.11 376.3 L746.36 376.01 L745.6 375.74 L744.84 375.49 L744.09 375.25 L743.33 375.04 L742.58 374.85 L741.82 374.68 L741.06 374.53 L740.31 374.4 L739.55 374.29 L738.79 374.19 L738.04 374.11 L737.28 374.04 L736.52 373.99 L735.77 373.94 L735.01 373.91 L734.26 373.48 L733.5 372.49Z" fill="url(#g13)"/>
<text x="611.3" y="375.38" font-size="8.5" text-anchor="end" fill="#555" stroke="#555" stroke-width="0.16">137</text>
<path d="M732.7 390.03 L733.46 388.91 L734.21 388.43 L734.97 388.4 L735.73 388.37 L736.48 388.34 L737.24 388.3 L738 388.25 L738.75 388.21 L739.51 388.15 L740.26 388.09 L741.02 388.02 L741.78 387.94 L742.53 387.84 L743.29 387.74 L744.05 387.63 L744.8 387.5 L745.56 387.36 L746.32 387.2 L747.07 387.03 L747.83 386.84 L748.59 386.63 L749.34 386.42 L750.1 386.18 L750.86 385.94 L751.61 385.68 L752.37 385.41 L753.12 385.13 L753.88 384.85 L754.64 384.57 L755.39 384.29 L756.15 384.01 L756.91 383.74 L757.66 383.49 L758.42 383.25 L759.18 383.03 L759.93 382.84 L760.69 382.67 L761.45 382.54 L762.2 382.43 L762.96 382.36 L763.72 382.33 L764.47 382.34 L765.23 382.39 L765.98 382.48 L766.74 382.62 L767.5 382.8 L768.25 383.01 L769.01 383.25 L769.77 383.51 L770.52 383.8 L771.28 384.1 L772.04 384.41 L772.79 384.72 L773.55 385.04 L774.31 385.34 L775.06 385.64 L775.82 385.93 L776.58 386.2 L777.33 386.45 L778.09 386.69 L778.84 386.9 L779.6 387.1 L780.36 387.28 L781.11 387.44 L781.87 387.58 L782.63 387.7 L783.38 387.81 L784.14 387.91 L784.9 387.99 L785.65 388.07 L786.41 388.13 L787.17 388.18 L787.92 388.23 L788.68 388.27 L789.44 388.31 L790.19 388.34 L790.95 388.37 L791.7 388.4 L792.46 388.42 L793.22 388.44 L793.97 388.46 L794.73 388.48 L795.49 388.49 L796.24 388.95 L797 390.03 L797 390.03 L796.24 391.11 L795.49 391.57 L794.73 391.58 L793.97 391.6 L793.22 391.62 L792.46 391.64 L791.7 391.66 L790.95 391.69 L790.19 391.72 L789.44 391.75 L788.68 391.79 L787.92 391.83 L787.17 391.88 L786.41 391.93 L785.65 391.99 L784.9 392.07 L784.14 392.15 L783.38 392.25 L782.63 392.36 L781.87 392.48 L781.11 392.62 L780.36 392.78 L779.6 392.96 L778.84 393.16 L778.09 393.37 L777.33 393.61 L776.58 393.86 L775.82 394.13 L775.06 394.42 L774.31 394.72 L773.55 395.02 L772.79 395.34 L772.04 395.65 L771.28 395.96 L770.52 396.26 L769.77 396.55 L769.01 396.81 L768.25 397.05 L767.5 397.26 L766.74 397.44 L765.98 397.58 L765.23 397.67 L764.47 397.72 L763.72 397.73 L762.96 397.7 L762.2 397.63 L761.45 397.52 L760.69 397.39 L759.93 397.22 L759.18 397.03 L758.42 396.81 L757.66 396.57 L756.91 396.32 L756.15 396.05 L755.39 395.77 L754.64 395.49 L753.88 395.21 L753.12 394.93 L752.37 394.65 L751.61 394.38 L750.86 394.12 L750.1 393.88 L749.34 393.64 L748.59 393.43 L747.83 393.22 L747.07 393.03 L746.32 392.86 L745.56 392.7 L744.8 392.56 L744.05 392.43 L743.29 392.32 L742.53 392.22 L741.78 392.12 L741.02 392.04 L740.26 391.97 L739.51 391.91 L738.75 391.85 L738 391.81 L737.24 391.76 L736.48 391.72 L735.73 391.69 L734.97 391.66 L734.21 391.63 L733.46 391.15 L732.7 390.03Z" fill="url(#g14)"/>
<circle cx="727" cy="390.03" r="1.4" fill="url(#g14)"/>
<circle cx="800" cy="390.03" r="1.4" fill="url(#g14)"/>
<circle cx="802.5" cy="390.03" r="1.4" fill="url(#g14)"/>
<text x="611.3" y="392.93" font-size="8.5" text-anchor="end" fill="#555" stroke="#555" stroke-width="0.16">133</text>
<path d="M741.5 407.58 L742.25 406.64 L743 406.25 L743.75 406.24 L744.5 406.22 L745.25 406.2 L746 406.16 L746.75 406.12 L747.5 406.05 L748.25 405.96 L749 405.85 L749.75 405.69 L750.5 405.5 L751.25 405.26 L752 404.96 L752.75 404.62 L753.5 404.22 L754.25 403.78 L755 403.31 L755.75 402.81 L756.5 402.31 L757.25 401.83 L758 401.4 L758.75 401.03 L759.5 400.74 L760.25 400.56 L761 400.48 L761.75 400.52 L762.5 400.67 L763.25 400.93 L764 401.27 L764.75 401.67 L765.5 402.11 L766.25 402.58 L767 403.04 L767.75 403.48 L768.5 403.89 L769.25 404.25 L770 404.56 L770.75 404.82 L771.5 405.03 L772.25 405.2 L773 405.32 L773.75 405.4 L774.5 405.46 L775.25 405.49 L776 405.51 L776.75 405.51 L777.5 405.5 L778.25 405.49 L779 405.47 L779.75 405.45 L780.5 405.43 L781.25 405.41 L782 405.39 L782.75 405.37 L783.5 405.35 L784.25 405.34 L785 405.32 L785.75 405.31 L786.5 405.3 L787.25 405.29 L788 405.28 L788.75 405.28 L789.5 405.28 L790.25 405.28 L791 405.28 L791.75 405.28 L792.5 405.28 L793.25 405.28 L794 405.29 L794.75 405.29 L795.5 405.29 L796.25 405.3 L797 405.31 L797.75 405.31 L798.5 405.32 L799.25 405.33 L800 405.34 L800.75 405.35 L801.5 405.36 L802.25 405.37 L803 405.38 L803.75 405.39 L804.5 405.4 L805.25 405.41 L806 405.43 L806.75 405.44 L807.5 405.45 L808.25 405.47 L809 405.48 L809.75 405.5 L810.5 405.51 L811.25 405.53 L812 405.54 L812.75 405.56 L813.5 405.57 L814.25 405.59 L815 405.6 L815.75 405.62 L816.5 405.64 L817.25 405.65 L818 405.67 L818.75 405.68 L819.5 405.7 L820.25 406.26 L821 407.58 L821 407.58 L820.25 408.89 L819.5 409.45 L818.75 409.47 L818 409.48 L817.25 409.5 L816.5 409.51 L815.75 409.53 L815 409.55 L814.25 409.56 L813.5 409.58 L812.75 409.59 L812 409.61 L811.25 409.62 L810.5 409.64 L809.75 409.65 L809 409.67 L808.25 409.68 L807.5 409.7 L806.75 409.71 L806 409.72 L805.25 409.74 L804.5 409.75 L803.75 409.76 L803 409.77 L802.25 409.78 L801.5 409.79 L800.75 409.8 L800 409.81 L799.25 409.82 L798.5 409.83 L797.75 409.84 L797 409.84 L796.25 409.85 L795.5 409.86 L794.75 409.86 L794 409.86 L793.25 409.87 L792.5 409.87 L791.75 409.87 L791 409.87 L790.25 409.87 L789.5 409.87 L788.75 409.87 L788 409.87 L787.25 409.86 L786.5 409.85 L785.75 409.84 L785 409.83 L784.25 409.81 L783.5 409.8 L782.75 409.78 L782 409.76 L781.25 409.74 L780.5 409.72 L779.75 409.7 L779 409.68 L778.25 409.66 L777.5 409.65 L776.75 409.64 L776 409.64 L775.25 409.66 L774.5 409.69 L773.75 409.75 L773 409.83 L772.25 409.95 L771.5 410.12 L770.75 410.33 L770 410.59 L769.25 410.9 L768.5 411.26 L767.75 411.67 L767 412.11 L766.25 412.57 L765.5 413.04 L764.75 413.48 L764 413.88 L763.25 414.22 L762.5 414.48 L761.75 414.63 L761 414.67 L760.25 414.59 L759.5 414.41 L758.75 414.12 L758 413.75 L757.25 413.32 L756.5 412.84 L755.75 412.34 L755 411.84 L754.25 411.37 L753.5 410.93 L752.75 410.53 L752 410.19 L751.25 409.89 L750.5 409.65 L749.75 409.46 L749 409.3 L748.25 409.19 L747.5 409.1 L746.75 409.03 L746 408.99 L745.25 408.95 L744.5 408.93 L743.75 408.91 L743 408.9 L742.25 408.51 L741.5 407.58Z" fill="url(#g15)"/>
<circle cx="738.4" cy="407.58" r="1.4" fill="url(#g15)"/>
<circle cx="826" cy="407.58" r="1.4" fill="url(#g15)"/>
<circle cx="828" cy="407.58" r="1.4" fill="url(#g15)"/>
<circle cx="833.4" cy="407.58" r="1.4" fill="url(#g15)"/>
<circle cx="838.3" cy="407.58" r="1.4" fill="url(#g15)"/>
<text x="611.3" y="410.48" font-size="8.5" text-anchor="end" fill="#555" stroke="#555" stroke-width="0.16">46</text>
<path d="M732 425.12 L732.76 424.19 L733.51 423.8 L734.27 423.79 L735.02 423.78 L735.78 423.76 L736.54 423.74 L737.29 423.72 L738.05 423.69 L738.8 423.65 L739.56 423.6 L740.32 423.53 L741.07 423.46 L741.83 423.37 L742.59 423.26 L743.34 423.14 L744.1 422.99 L744.85 422.83 L745.61 422.64 L746.37 422.44 L747.12 422.21 L747.88 421.97 L748.63 421.71 L749.39 421.44 L750.15 421.16 L750.9 420.88 L751.66 420.6 L752.41 420.33 L753.17 420.08 L753.93 419.85 L754.68 419.64 L755.44 419.47 L756.2 419.34 L756.95 419.23 L757.71 419.17 L758.46 419.15 L759.22 419.22 L759.98 419.37 L760.73 419.57 L761.49 419.77 L762.24 419.93 L763 420 L763.76 419.96 L764.51 419.79 L765.27 419.49 L766.02 419.1 L766.78 418.65 L767.54 418.2 L768.29 417.82 L769.05 417.57 L769.8 417.48 L770.56 417.54 L771.32 417.65 L772.07 417.79 L772.83 417.98 L773.59 418.2 L774.34 418.46 L775.1 418.75 L775.85 419.07 L776.61 419.4 L777.37 419.74 L778.12 420.08 L778.88 420.42 L779.63 420.75 L780.39 421.07 L781.15 421.37 L781.9 421.65 L782.66 421.9 L783.41 422.14 L784.17 422.35 L784.93 422.54 L785.68 422.7 L786.44 422.85 L787.2 422.97 L787.95 423.08 L788.71 423.18 L789.46 423.26 L790.22 423.33 L790.98 423.39 L791.73 423.44 L792.49 423.49 L793.24 423.99 L794 425.12 L794 425.12 L793.24 426.25 L792.49 426.75 L791.73 426.8 L790.98 426.85 L790.22 426.91 L789.46 426.98 L788.71 427.06 L787.95 427.16 L787.2 427.27 L786.44 427.39 L785.68 427.54 L784.93 427.7 L784.17 427.89 L783.41 428.1 L782.66 428.34 L781.9 428.59 L781.15 428.87 L780.39 429.17 L779.63 429.49 L778.88 429.82 L778.12 430.16 L777.37 430.5 L776.61 430.84 L775.85 431.17 L775.1 431.49 L774.34 431.78 L773.59 432.04 L772.83 432.26 L772.07 432.45 L771.32 432.59 L770.56 432.7 L769.8 432.76 L769.05 432.67 L768.29 432.42 L767.54 432.04 L766.78 431.59 L766.02 431.14 L765.27 430.75 L764.51 430.45 L763.76 430.28 L763 430.24 L762.24 430.31 L761.49 430.47 L760.73 430.67 L759.98 430.87 L759.22 431.02 L758.46 431.09 L757.71 431.07 L756.95 431.01 L756.2 430.9 L755.44 430.77 L754.68 430.6 L753.93 430.39 L753.17 430.16 L752.41 429.91 L751.66 429.64 L750.9 429.36 L750.15 429.08 L749.39 428.8 L748.63 428.53 L747.88 428.27 L747.12 428.03 L746.37 427.8 L745.61 427.6 L744.85 427.41 L744.1 427.25 L743.34 427.1 L742.59 426.98 L741.83 426.87 L741.07 426.78 L740.32 426.71 L739.56 426.64 L738.8 426.59 L738.05 426.55 L737.29 426.52 L736.54 426.5 L735.78 426.48 L735.02 426.46 L734.27 426.45 L733.51 426.44 L732.76 426.05 L732 425.12Z" fill="url(#g16)"/>
<circle cx="721.5" cy="425.12" r="1.4" fill="url(#g16)"/>
<circle cx="724.3" cy="425.12" r="1.4" fill="url(#g16)"/>
<circle cx="728.6" cy="425.12" r="1.4" fill="url(#g16)"/>
<text x="611.3" y="428.02" font-size="8.5" text-anchor="end" fill="#555" stroke="#555" stroke-width="0.16">61</text>
<path d="M730.6 442.67 L731.35 441.66 L732.1 441.23 L732.85 441.22 L733.61 441.2 L734.36 441.19 L735.11 441.17 L735.86 441.16 L736.61 441.14 L737.36 441.12 L738.12 441.1 L738.87 441.07 L739.62 441.05 L740.37 441.03 L741.12 441 L741.87 440.97 L742.62 440.95 L743.38 440.92 L744.13 440.88 L744.88 440.85 L745.63 440.81 L746.38 440.76 L747.13 440.71 L747.88 440.66 L748.64 440.59 L749.39 440.51 L750.14 440.41 L750.89 440.3 L751.64 440.16 L752.39 440 L753.15 439.8 L753.9 439.58 L754.65 439.32 L755.4 439.03 L756.15 438.7 L756.9 438.35 L757.65 437.96 L758.41 437.57 L759.16 437.16 L759.91 436.76 L760.66 436.38 L761.41 436.03 L762.16 435.72 L762.92 435.47 L763.67 435.29 L764.42 435.19 L765.17 435.17 L765.92 435.22 L766.67 435.35 L767.42 435.55 L768.18 435.81 L768.93 436.12 L769.68 436.47 L770.43 436.85 L771.18 437.24 L771.93 437.63 L772.68 438.02 L773.44 438.39 L774.19 438.73 L774.94 439.05 L775.69 439.33 L776.44 439.58 L777.19 439.81 L777.95 440 L778.7 440.16 L779.45 440.3 L780.2 440.41 L780.95 440.51 L781.7 440.59 L782.45 440.66 L783.21 440.72 L783.96 440.77 L784.71 440.82 L785.46 440.86 L786.21 440.89 L786.96 440.93 L787.72 440.96 L788.47 440.99 L789.22 441.01 L789.97 441.04 L790.72 441.06 L791.47 441.08 L792.22 441.11 L792.98 441.13 L793.73 441.15 L794.48 441.16 L795.23 441.18 L795.98 441.2 L796.73 441.21 L797.48 441.22 L798.24 441.24 L798.99 441.25 L799.74 441.26 L800.49 441.27 L801.24 441.28 L801.99 441.29 L802.75 441.3 L803.5 441.3 L804.25 441.71 L805 442.67 L805 442.67 L804.25 443.62 L803.5 444.03 L802.75 444.03 L801.99 444.04 L801.24 444.05 L800.49 444.06 L799.74 444.07 L798.99 444.08 L798.24 444.09 L797.48 444.11 L796.73 444.12 L795.98 444.13 L795.23 444.15 L794.48 444.17 L793.73 444.18 L792.98 444.2 L792.22 444.22 L791.47 444.25 L790.72 444.27 L789.97 444.29 L789.22 444.32 L788.47 444.34 L787.72 444.37 L786.96 444.4 L786.21 444.44 L785.46 444.47 L784.71 444.51 L783.96 444.56 L783.21 444.61 L782.45 444.67 L781.7 444.74 L780.95 444.82 L780.2 444.92 L779.45 445.03 L778.7 445.17 L777.95 445.33 L777.19 445.52 L776.44 445.75 L775.69 446 L774.94 446.28 L774.19 446.6 L773.44 446.94 L772.68 447.31 L771.93 447.7 L771.18 448.09 L770.43 448.48 L769.68 448.86 L768.93 449.21 L768.18 449.52 L767.42 449.78 L766.67 449.98 L765.92 450.11 L765.17 450.16 L764.42 450.14 L763.67 450.04 L762.92 449.86 L762.16 449.61 L761.41 449.3 L760.66 448.95 L759.91 448.57 L759.16 448.17 L758.41 447.76 L757.65 447.37 L756.9 446.98 L756.15 446.63 L755.4 446.3 L754.65 446.01 L753.9 445.75 L753.15 445.53 L752.39 445.33 L751.64 445.17 L750.89 445.03 L750.14 444.92 L749.39 444.82 L748.64 444.74 L747.88 444.67 L747.13 444.62 L746.38 444.57 L745.63 444.52 L744.88 444.48 L744.13 444.45 L743.38 444.41 L742.62 444.38 L741.87 444.36 L741.12 444.33 L740.37 444.3 L739.62 444.28 L738.87 444.26 L738.12 444.23 L737.36 444.21 L736.61 444.19 L735.86 444.17 L735.11 444.16 L734.36 444.14 L733.61 444.13 L732.85 444.11 L732.1 444.1 L731.35 443.67 L730.6 442.67Z" fill="url(#g17)"/>
<circle cx="808" cy="442.67" r="1.4" fill="url(#g17)"/>
<circle cx="816.7" cy="442.67" r="1.4" fill="url(#g17)"/>
<circle cx="825.4" cy="442.67" r="1.4" fill="url(#g17)"/>
<circle cx="829.7" cy="442.67" r="1.4" fill="url(#g17)"/>
<text x="611.3" y="445.57" font-size="8.5" text-anchor="end" fill="#555" stroke="#555" stroke-width="0.16">124</text>
<path d="M727.8 460.21 L728.56 459.26 L729.31 458.87 L730.07 458.86 L730.82 458.86 L731.58 458.85 L732.33 458.84 L733.09 458.83 L733.85 458.82 L734.6 458.81 L735.36 458.8 L736.11 458.79 L736.87 458.77 L737.62 458.76 L738.38 458.74 L739.14 458.72 L739.89 458.71 L740.65 458.69 L741.4 458.66 L742.16 458.64 L742.91 458.62 L743.67 458.59 L744.43 458.56 L745.18 458.52 L745.94 458.48 L746.69 458.43 L747.45 458.36 L748.2 458.26 L748.96 458.14 L749.72 457.97 L750.47 457.76 L751.23 457.48 L751.98 457.14 L752.74 456.73 L753.5 456.26 L754.25 455.73 L755.01 455.18 L755.76 454.62 L756.52 454.09 L757.27 453.61 L758.03 453.21 L758.79 452.91 L759.54 452.7 L760.3 452.57 L761.05 452.49 L761.81 452.45 L762.56 452.44 L763.32 452.43 L764.08 452.43 L764.83 452.43 L765.59 452.46 L766.34 452.51 L767.1 452.61 L767.85 452.78 L768.61 453.03 L769.37 453.36 L770.12 453.76 L770.88 454.22 L771.63 454.72 L772.39 455.24 L773.14 455.76 L773.9 456.24 L774.66 456.68 L775.41 457.07 L776.17 457.4 L776.92 457.68 L777.68 457.9 L778.43 458.07 L779.19 458.2 L779.95 458.3 L780.7 458.38 L781.46 458.44 L782.21 458.49 L782.97 458.53 L783.72 458.57 L784.48 458.6 L785.24 458.62 L785.99 458.65 L786.75 458.67 L787.5 458.69 L788.26 458.71 L789.01 458.73 L789.77 458.74 L790.53 458.76 L791.28 458.78 L792.04 458.79 L792.79 458.8 L793.55 458.81 L794.3 458.82 L795.06 458.83 L795.82 458.84 L796.57 458.85 L797.33 458.86 L798.08 458.86 L798.84 458.87 L799.6 458.87 L800.35 458.88 L801.11 458.88 L801.86 458.89 L802.62 458.89 L803.37 458.89 L804.13 458.9 L804.89 458.9 L805.64 458.9 L806.4 458.9 L807.15 458.9 L807.91 458.9 L808.66 458.9 L809.42 458.91 L810.18 458.91 L810.93 458.91 L811.69 458.91 L812.44 458.91 L813.2 458.91 L813.95 458.91 L814.71 458.91 L815.47 458.91 L816.22 458.91 L816.98 458.91 L817.73 458.91 L818.49 458.91 L819.24 459.29 L820 460.21 L820 460.21 L819.24 461.13 L818.49 461.51 L817.73 461.51 L816.98 461.51 L816.22 461.51 L815.47 461.51 L814.71 461.51 L813.95 461.51 L813.2 461.51 L812.44 461.51 L811.69 461.51 L810.93 461.51 L810.18 461.51 L809.42 461.51 L808.66 461.52 L807.91 461.52 L807.15 461.52 L806.4 461.52 L805.64 461.52 L804.89 461.52 L804.13 461.52 L803.37 461.53 L802.62 461.53 L801.86 461.53 L801.11 461.54 L800.35 461.54 L799.6 461.55 L798.84 461.55 L798.08 461.56 L797.33 461.56 L796.57 461.57 L795.82 461.58 L795.06 461.59 L794.3 461.6 L793.55 461.61 L792.79 461.62 L792.04 461.63 L791.28 461.64 L790.53 461.66 L789.77 461.68 L789.01 461.69 L788.26 461.71 L787.5 461.73 L786.75 461.75 L785.99 461.77 L785.24 461.8 L784.48 461.82 L783.72 461.85 L782.97 461.89 L782.21 461.93 L781.46 461.98 L780.7 462.04 L779.95 462.12 L779.19 462.22 L778.43 462.35 L777.68 462.52 L776.92 462.74 L776.17 463.02 L775.41 463.35 L774.66 463.74 L773.9 464.18 L773.14 464.66 L772.39 465.18 L771.63 465.7 L770.88 466.2 L770.12 466.66 L769.37 467.06 L768.61 467.39 L767.85 467.64 L767.1 467.81 L766.34 467.91 L765.59 467.96 L764.83 467.99 L764.08 467.99 L763.32 467.99 L762.56 467.98 L761.81 467.97 L761.05 467.93 L760.3 467.85 L759.54 467.72 L758.79 467.51 L758.03 467.21 L757.27 466.81 L756.52 466.33 L755.76 465.8 L755.01 465.24 L754.25 464.69 L753.5 464.16 L752.74 463.69 L751.98 463.28 L751.23 462.94 L750.47 462.66 L749.72 462.45 L748.96 462.28 L748.2 462.16 L747.45 462.06 L746.69 461.99 L745.94 461.94 L745.18 461.9 L744.43 461.86 L743.67 461.83 L742.91 461.8 L742.16 461.78 L741.4 461.76 L740.65 461.73 L739.89 461.71 L739.14 461.7 L738.38 461.68 L737.62 461.66 L736.87 461.65 L736.11 461.63 L735.36 461.62 L734.6 461.61 L733.85 461.6 L733.09 461.59 L732.33 461.58 L731.58 461.57 L730.82 461.56 L730.07 461.56 L729.31 461.55 L728.56 461.16 L727.8 460.21Z" fill="url(#g18)"/>
<circle cx="705.4" cy="460.21" r="1.4" fill="url(#g18)"/>
<circle cx="712" cy="460.21" r="1.4" fill="url(#g18)"/>
<circle cx="717.7" cy="460.21" r="1.4" fill="url(#g18)"/>
<circle cx="720.6" cy="460.21" r="1.4" fill="url(#g18)"/>
<circle cx="723.5" cy="460.21" r="1.4" fill="url(#g18)"/>
<text x="611.3" y="463.11" font-size="8.5" text-anchor="end" fill="#555" stroke="#555" stroke-width="0.16">171</text>
<path d="M735.8 477.75 L736.56 476.79 L737.32 476.38 L738.08 476.37 L738.84 476.36 L739.59 476.35 L740.35 476.34 L741.11 476.32 L741.87 476.3 L742.63 476.28 L743.39 476.26 L744.15 476.23 L744.91 476.2 L745.67 476.16 L746.43 476.11 L747.18 476.05 L747.94 475.98 L748.7 475.88 L749.46 475.75 L750.22 475.6 L750.98 475.4 L751.74 475.17 L752.5 474.89 L753.26 474.56 L754.02 474.18 L754.77 473.75 L755.53 473.28 L756.29 472.79 L757.05 472.27 L757.81 471.76 L758.57 471.27 L759.33 470.81 L760.09 470.41 L760.85 470.09 L761.61 469.85 L762.36 469.71 L763.12 469.69 L763.88 469.81 L764.64 470.08 L765.4 470.44 L766.16 470.88 L766.92 471.36 L767.68 471.84 L768.44 472.31 L769.19 472.74 L769.95 473.12 L770.71 473.46 L771.47 473.76 L772.23 474.02 L772.99 474.24 L773.75 474.41 L774.51 474.55 L775.27 474.67 L776.03 474.77 L776.78 474.85 L777.54 474.93 L778.3 475.01 L779.06 475.08 L779.82 475.16 L780.58 475.23 L781.34 475.31 L782.1 475.38 L782.86 475.45 L783.62 475.52 L784.37 475.59 L785.13 475.66 L785.89 475.73 L786.65 475.79 L787.41 475.85 L788.17 475.91 L788.93 475.96 L789.69 476.01 L790.45 476.06 L791.21 476.11 L791.96 476.15 L792.72 476.18 L793.48 476.22 L794.24 476.68 L795 477.75 L795 477.75 L794.24 478.83 L793.48 479.29 L792.72 479.33 L791.96 479.36 L791.21 479.4 L790.45 479.45 L789.69 479.5 L788.93 479.55 L788.17 479.6 L787.41 479.66 L786.65 479.72 L785.89 479.78 L785.13 479.85 L784.37 479.92 L783.62 479.99 L782.86 480.06 L782.1 480.13 L781.34 480.2 L780.58 480.28 L779.82 480.35 L779.06 480.43 L778.3 480.5 L777.54 480.58 L776.78 480.66 L776.03 480.74 L775.27 480.84 L774.51 480.96 L773.75 481.1 L772.99 481.27 L772.23 481.49 L771.47 481.75 L770.71 482.05 L769.95 482.39 L769.19 482.77 L768.44 483.2 L767.68 483.67 L766.92 484.15 L766.16 484.63 L765.4 485.07 L764.64 485.43 L763.88 485.7 L763.12 485.82 L762.36 485.8 L761.61 485.66 L760.85 485.42 L760.09 485.1 L759.33 484.7 L758.57 484.24 L757.81 483.75 L757.05 483.24 L756.29 482.72 L755.53 482.23 L754.77 481.76 L754.02 481.33 L753.26 480.95 L752.5 480.62 L751.74 480.34 L750.98 480.11 L750.22 479.91 L749.46 479.76 L748.7 479.63 L747.94 479.53 L747.18 479.46 L746.43 479.4 L745.67 479.35 L744.91 479.31 L744.15 479.28 L743.39 479.25 L742.63 479.23 L741.87 479.21 L741.11 479.19 L740.35 479.17 L739.59 479.16 L738.84 479.15 L738.08 479.14 L737.32 479.13 L736.56 478.72 L735.8 477.75Z" fill="url(#g19)"/>
<circle cx="729.8" cy="477.75" r="1.4" fill="url(#g19)"/>
<text x="611.3" y="480.65" font-size="8.5" text-anchor="end" fill="#555" stroke="#555" stroke-width="0.16">120</text>
<line x1="628.7" y1="495.2" x2="877.7" y2="495.2" stroke="#444" stroke-width="0.8"/>
<line x1="651.5" y1="495.2" x2="651.5" y2="497.6" stroke="#444" stroke-width="0.6"/>
<text x="651.5" y="504.7" font-size="7.0" text-anchor="middle" fill="#606060" stroke="#606060" stroke-width="0.16">−0.3</text>
<line x1="689.1" y1="495.2" x2="689.1" y2="497.6" stroke="#444" stroke-width="0.6"/>
<text x="689.1" y="504.7" font-size="7.0" text-anchor="middle" fill="#606060" stroke="#606060" stroke-width="0.16">−0.2</text>
<line x1="726.7" y1="495.2" x2="726.7" y2="497.6" stroke="#444" stroke-width="0.6"/>
<text x="726.7" y="504.7" font-size="7.0" text-anchor="middle" fill="#606060" stroke="#606060" stroke-width="0.16">−0.1</text>
<line x1="764.3" y1="495.2" x2="764.3" y2="497.6" stroke="#444" stroke-width="0.6"/>
<text x="764.3" y="504.7" font-size="7.0" text-anchor="middle" fill="#606060" stroke="#606060" stroke-width="0.16">0.0</text>
<line x1="801.9" y1="495.2" x2="801.9" y2="497.6" stroke="#444" stroke-width="0.6"/>
<text x="801.9" y="504.7" font-size="7.0" text-anchor="middle" fill="#606060" stroke="#606060" stroke-width="0.16">0.1</text>
<line x1="839.5" y1="495.2" x2="839.5" y2="497.6" stroke="#444" stroke-width="0.6"/>
<text x="839.5" y="504.7" font-size="7.0" text-anchor="middle" fill="#606060" stroke="#606060" stroke-width="0.16">0.2</text>
<line x1="877.1" y1="495.2" x2="877.1" y2="497.6" stroke="#444" stroke-width="0.6"/>
<text x="877.1" y="504.7" font-size="7.0" text-anchor="middle" fill="#606060" stroke="#606060" stroke-width="0.16">0.3</text>
<text x="752.7" y="516.8" font-size="9.05" text-anchor="middle" fill="#333" stroke="#333" stroke-width="0.16">SHAP value (impact on model output)</text>
<defs><linearGradient id="cb" x1="0" y1="0" x2="0" y2="1"><stop offset="0" stop-color="#e81262"/><stop offset="0.28" stop-color="#c41f86"/><stop offset="0.5" stop-color="#9a38b4"/><stop offset="0.72" stop-color="#6058d2"/><stop offset="1" stop-color="#1f80e8"/></linearGradient></defs>
<rect x="893" y="126.8" width="4.6" height="368.1" fill="url(#cb)"/>
<text x="900.2" y="129.6" font-size="7.2" text-anchor="start" fill="#333" stroke="#333" stroke-width="0.16">High</text>
<text x="900.2" y="498.2" font-size="7.2" text-anchor="start" fill="#333" stroke="#333" stroke-width="0.16">Low</text>
<text x="921.3" y="311" font-size="8.2" text-anchor="middle" fill="#444" stroke="#444" stroke-width="0.16" transform="rotate(-90 921.3 311)">Feature value</text>
</g>
</svg>
</body></html>
